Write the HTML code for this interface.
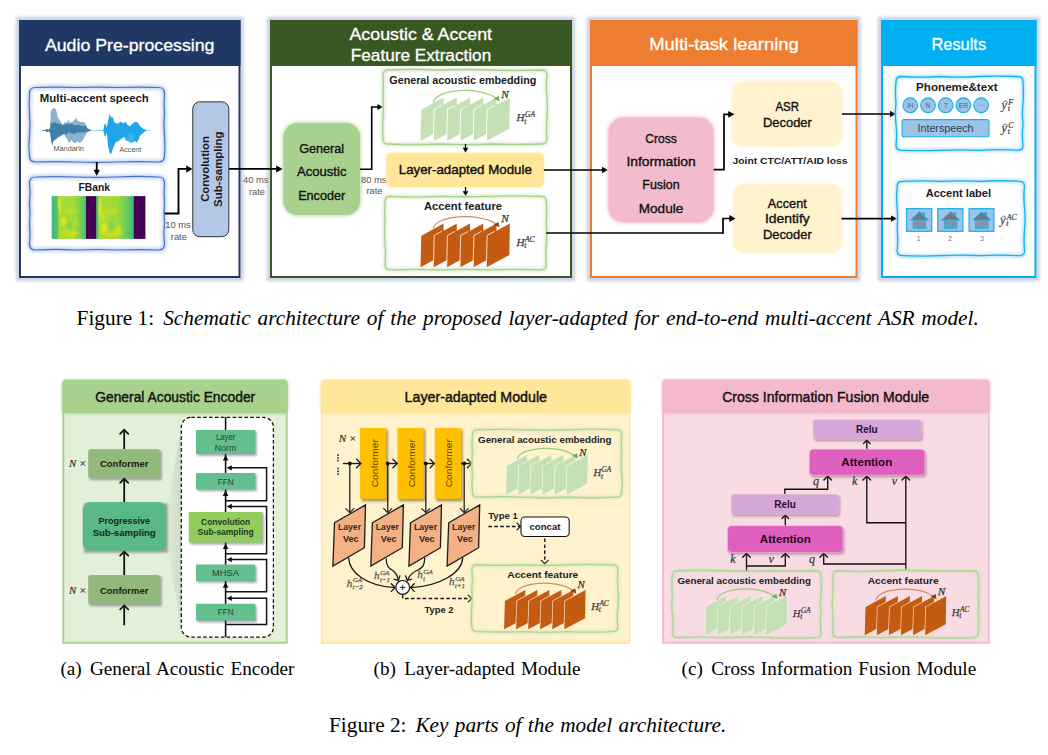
<!DOCTYPE html><html><head><meta charset="utf-8"><title>Figure</title>
<style>html,body{margin:0;padding:0;background:#fff;}body{width:1048px;height:755px;overflow:hidden;font-family:"Liberation Sans",sans-serif;}svg{display:block}</style></head><body>
<svg width="1048" height="755" viewBox="0 0 1048 755">
<defs>
<filter id="b1" x="-20%" y="-20%" width="140%" height="140%"><feGaussianBlur stdDeviation="1"/></filter>
<filter id="b2" x="-20%" y="-20%" width="140%" height="140%"><feGaussianBlur stdDeviation="1.6"/></filter>
<filter id="b3" x="-30%" y="-30%" width="160%" height="160%"><feGaussianBlur stdDeviation="3"/></filter>
<filter id="b05" x="-20%" y="-20%" width="140%" height="140%"><feGaussianBlur stdDeviation="0.5"/></filter>
<linearGradient id="spA" x1="0" x2="1" y1="0" y2="0">
<stop offset="0" stop-color="#3fb878"/><stop offset="0.17" stop-color="#52c569"/><stop offset="0.22" stop-color="#b5de2b"/><stop offset="0.28" stop-color="#a2da37"/><stop offset="0.6" stop-color="#a8db34"/><stop offset="0.82" stop-color="#7ad151"/><stop offset="1" stop-color="#4ac16d"/></linearGradient>
<linearGradient id="spB" x1="0" x2="1" y1="0" y2="0">
<stop offset="0" stop-color="#44bf70"/><stop offset="0.05" stop-color="#5ec962"/><stop offset="0.10" stop-color="#b5de2b"/><stop offset="0.16" stop-color="#a5db36"/><stop offset="0.55" stop-color="#a0da39"/><stop offset="0.78" stop-color="#6ece58"/><stop offset="1" stop-color="#3bb876"/></linearGradient>
<linearGradient id="wedge" x1="0" x2="1" y1="0" y2="0"><stop offset="0" stop-color="#9aa39a" stop-opacity="0.0"/><stop offset="1" stop-color="#b9c2b6" stop-opacity="0.42"/></linearGradient>
</defs>
<rect width="1048" height="755" fill="#fff"/>
<rect x="18.00" y="19.00" width="223.50" height="260.00" rx="0" ry="0" fill="none" stroke="#9aa6cc" stroke-width="4" opacity="0.55" filter="url(#b2)"/>
<rect x="19.00" y="20.00" width="221.50" height="258.00" rx="0" ry="0" fill="#fff" stroke="none" stroke-width="1" />
<rect x="19.00" y="20.00" width="221.50" height="46.00" rx="0" ry="0" fill="#203864" stroke="none" stroke-width="1" />
<rect x="20.00" y="21.00" width="219.50" height="256.00" rx="0" ry="0" fill="none" stroke="#203864" stroke-width="2" />
<text x="129.70" y="50.80" font-family="Liberation Sans" font-size="17" font-weight="normal" font-style="normal" text-anchor="middle" fill="#fff" textLength="169.50" lengthAdjust="spacingAndGlyphs" stroke="#fff" stroke-width="0.3">Audio Pre-processing</text>
<rect x="269.00" y="19.00" width="304.00" height="260.00" rx="0" ry="0" fill="none" stroke="#9aa6cc" stroke-width="4" opacity="0.55" filter="url(#b2)"/>
<rect x="270.00" y="20.00" width="302.00" height="258.00" rx="0" ry="0" fill="#fff" stroke="none" stroke-width="1" />
<rect x="270.00" y="20.00" width="302.00" height="46.00" rx="0" ry="0" fill="#385723" stroke="none" stroke-width="1" />
<rect x="271.00" y="21.00" width="300.00" height="256.00" rx="0" ry="0" fill="none" stroke="#385723" stroke-width="2" />
<text x="420.75" y="40.00" font-family="Liberation Sans" font-size="17" font-weight="normal" font-style="normal" text-anchor="middle" fill="#fff" textLength="142.50" lengthAdjust="spacingAndGlyphs" stroke="#fff" stroke-width="0.3">Acoustic &amp; Accent</text>
<text x="421.00" y="60.75" font-family="Liberation Sans" font-size="17" font-weight="normal" font-style="normal" text-anchor="middle" fill="#fff" textLength="140.50" lengthAdjust="spacingAndGlyphs" stroke="#fff" stroke-width="0.3">Feature Extraction</text>
<rect x="589.00" y="19.00" width="269.50" height="260.00" rx="0" ry="0" fill="none" stroke="#9aa6cc" stroke-width="4" opacity="0.55" filter="url(#b2)"/>
<rect x="590.00" y="20.00" width="267.50" height="258.00" rx="0" ry="0" fill="#fff" stroke="none" stroke-width="1" />
<rect x="590.00" y="20.00" width="267.50" height="46.00" rx="0" ry="0" fill="#ed7d31" stroke="none" stroke-width="1" />
<rect x="591.00" y="21.00" width="265.50" height="256.00" rx="0" ry="0" fill="none" stroke="#ed7d31" stroke-width="2" />
<text x="724.00" y="50.00" font-family="Liberation Sans" font-size="17" font-weight="normal" font-style="normal" text-anchor="middle" fill="#fff" textLength="149.50" lengthAdjust="spacingAndGlyphs" stroke="#fff" stroke-width="0.3">Multi-task learning</text>
<rect x="880.00" y="19.00" width="157.50" height="260.00" rx="0" ry="0" fill="none" stroke="#9aa6cc" stroke-width="4" opacity="0.55" filter="url(#b2)"/>
<rect x="881.00" y="20.00" width="155.50" height="258.00" rx="0" ry="0" fill="#fff" stroke="none" stroke-width="1" />
<rect x="881.00" y="20.00" width="155.50" height="46.00" rx="0" ry="0" fill="#00b0f0" stroke="none" stroke-width="1" />
<rect x="882.00" y="21.00" width="153.50" height="256.00" rx="0" ry="0" fill="none" stroke="#00b0f0" stroke-width="2" />
<text x="958.80" y="49.80" font-family="Liberation Sans" font-size="16.8" font-weight="normal" font-style="normal" text-anchor="middle" fill="#fff" textLength="54.70" lengthAdjust="spacingAndGlyphs" stroke="#fff" stroke-width="0.3">Results</text>
<path d="M35.50 87.50 Q56.00 86.61 76.50 87.50 Q97.00 86.56 117.50 87.50 Q138.00 86.76 158.50 87.50 Q164.50 87.50 164.50 93.50 Q163.58 103.92 164.50 114.33 Q163.25 124.75 164.50 135.17 Q165.22 145.58 164.50 156.00 Q164.50 162.00 158.50 162.00 Q138.00 161.05 117.50 162.00 Q97.00 162.75 76.50 162.00 Q56.00 161.26 35.50 162.00 Q29.50 162.00 29.50 156.00 Q28.23 145.58 29.50 135.17 Q30.55 124.75 29.50 114.33 Q28.77 103.92 29.50 93.50 Q29.50 87.50 35.50 87.50Z" fill="#fff" stroke="none"/>
<path d="M35.50 87.50 Q56.00 86.61 76.50 87.50 Q97.00 86.56 117.50 87.50 Q138.00 86.76 158.50 87.50 Q164.50 87.50 164.50 93.50 Q163.58 103.92 164.50 114.33 Q163.25 124.75 164.50 135.17 Q165.22 145.58 164.50 156.00 Q164.50 162.00 158.50 162.00 Q138.00 161.05 117.50 162.00 Q97.00 162.75 76.50 162.00 Q56.00 161.26 35.50 162.00 Q29.50 162.00 29.50 156.00 Q28.23 145.58 29.50 135.17 Q30.55 124.75 29.50 114.33 Q28.77 103.92 29.50 93.50 Q29.50 87.50 35.50 87.50Z" fill="none" stroke="#9db7e8" stroke-width="5" opacity="0.55" filter="url(#b2)"/>
<path d="M35.50 87.50 Q56.00 86.61 76.50 87.50 Q97.00 86.56 117.50 87.50 Q138.00 86.76 158.50 87.50 Q164.50 87.50 164.50 93.50 Q163.58 103.92 164.50 114.33 Q163.25 124.75 164.50 135.17 Q165.22 145.58 164.50 156.00 Q164.50 162.00 158.50 162.00 Q138.00 161.05 117.50 162.00 Q97.00 162.75 76.50 162.00 Q56.00 161.26 35.50 162.00 Q29.50 162.00 29.50 156.00 Q28.23 145.58 29.50 135.17 Q30.55 124.75 29.50 114.33 Q28.77 103.92 29.50 93.50 Q29.50 87.50 35.50 87.50Z" fill="none" stroke="#4472c4" stroke-width="1.2"/>
<text x="94.30" y="101.70" font-family="Liberation Sans" font-size="10.6" font-weight="bold" font-style="normal" text-anchor="middle" fill="#1a1a1a" textLength="109.00" lengthAdjust="spacingAndGlyphs" >Multi-accent speech</text>
<polygon points="42.26,130.31 42.87,129.49 43.48,130.82 44.09,129.80 44.70,129.51 45.31,130.07 46.07,128.87 46.83,128.97 47.59,129.19 48.35,130.07 48.96,130.04 49.57,128.38 50.18,128.36 50.79,111.31 51.40,110.53 52.01,109.72 52.62,108.57 53.23,108.25 53.83,108.45 54.44,108.26 55.05,108.33 55.66,109.14 56.27,110.70 56.88,112.63 57.49,115.88 58.10,118.01 58.71,118.70 59.32,119.31 59.92,120.44 60.53,121.58 61.14,122.34 61.75,123.07 62.36,124.40 62.97,124.40 63.58,123.73 64.19,122.88 64.80,122.21 65.41,122.55 66.01,122.24 66.62,121.97 67.23,121.90 67.84,120.94 68.45,119.83 69.06,120.69 69.67,122.27 70.28,123.09 70.89,121.62 71.50,122.13 72.10,122.27 72.71,122.10 73.32,120.46 73.93,120.42 74.54,119.83 75.15,118.54 75.76,119.11 76.37,118.31 76.98,119.68 77.59,120.26 78.19,121.05 78.80,121.84 79.41,121.04 80.02,121.84 80.63,121.66 81.24,121.87 81.85,121.90 82.46,121.74 83.07,122.44 83.68,122.67 84.29,121.97 84.89,122.84 85.50,124.07 86.11,124.71 86.72,125.78 87.33,128.36 87.94,129.01 88.55,129.22 89.16,130.11 89.77,129.58 90.38,130.31 90.98,129.58 91.59,129.93 92.20,130.31 92.20,130.67 91.59,130.18 90.98,130.45 90.38,130.37 89.77,131.41 89.16,130.95 88.55,131.74 87.94,131.74 87.33,132.62 86.72,133.14 86.11,133.92 85.50,135.67 84.89,135.99 84.29,138.03 83.68,138.19 83.07,139.93 82.46,140.37 81.85,140.97 81.24,142.27 80.63,142.37 80.02,142.88 79.41,142.60 78.80,142.68 78.19,141.12 77.59,141.76 76.98,142.30 76.37,142.45 75.76,142.52 75.15,143.06 74.54,142.98 73.93,143.34 73.32,142.28 72.71,141.54 72.10,141.21 71.50,140.10 70.89,140.54 70.13,141.66 69.36,143.59 68.60,142.22 67.84,140.54 67.23,139.60 66.62,138.26 66.01,137.34 65.41,136.89 64.80,135.32 64.19,134.26 63.58,133.84 62.97,135.08 62.36,135.41 61.75,134.97 61.14,135.67 60.53,135.77 59.92,135.78 59.32,137.02 58.71,137.19 58.10,136.89 57.49,138.15 56.88,138.19 56.27,138.71 55.66,139.11 55.05,138.97 54.44,140.81 53.83,140.48 53.23,141.15 52.31,145.41 51.70,142.55 51.09,140.54 50.18,132.62 49.57,131.42 48.96,131.94 48.35,130.92 47.59,130.71 46.83,132.01 46.07,130.81 45.31,130.92 44.70,130.30 44.09,130.76 43.48,129.96 42.87,131.01 42.26,130.67" fill="#8ab2cc" />
<polygon points="42.26,130.31 42.87,130.14 43.48,129.81 44.09,130.48 44.70,130.21 45.31,130.07 46.07,129.22 46.83,128.97 47.59,129.31 48.35,130.07 48.96,129.37 49.57,128.81 50.18,128.36 50.79,122.88 51.34,122.56 51.89,123.18 52.43,123.30 52.98,122.85 53.53,122.87 54.08,122.53 54.63,122.54 55.17,122.75 55.72,122.68 56.27,122.88 56.88,123.36 57.49,123.00 58.10,123.08 58.71,124.08 59.32,123.92 59.92,124.10 60.53,124.02 61.14,124.59 61.75,124.38 62.36,125.01 62.97,124.90 63.58,125.16 64.19,124.93 64.80,124.66 65.41,124.15 66.01,124.11 66.62,124.10 67.23,123.81 67.84,124.33 68.45,124.13 69.06,124.34 69.67,124.10 70.28,123.80 70.89,123.56 71.50,123.91 72.10,123.49 72.71,124.36 73.32,124.70 73.93,125.12 74.54,125.32 75.15,125.54 75.76,125.42 76.37,124.93 76.98,125.13 77.59,124.94 78.19,125.01 78.80,124.84 79.41,125.07 80.02,125.51 80.63,125.92 81.24,125.72 81.85,126.09 82.46,126.31 83.07,125.88 83.68,126.30 84.29,126.34 84.89,126.31 85.50,125.92 86.11,126.62 86.72,127.31 87.33,128.36 87.94,128.43 88.55,128.71 89.16,129.02 89.77,129.58 90.38,129.87 90.98,130.29 91.59,130.42 92.20,130.31 92.20,130.67 91.59,130.40 90.98,130.82 90.38,130.41 89.77,131.10 89.16,131.21 88.55,131.29 87.94,131.33 87.33,131.41 86.72,132.12 86.11,131.71 85.50,132.01 84.89,132.58 84.29,132.27 83.68,132.19 83.07,132.14 82.46,132.89 81.85,132.02 81.24,132.45 80.63,132.62 80.02,132.33 79.41,132.73 78.80,132.31 78.19,132.37 77.59,132.62 76.98,132.56 76.37,132.76 75.76,133.75 75.15,134.05 74.54,133.84 73.93,133.61 73.32,134.07 72.71,133.42 72.10,133.23 71.50,133.31 70.89,133.60 70.28,132.34 69.67,132.38 69.06,132.78 68.45,132.62 67.84,132.81 67.23,133.55 66.62,134.30 66.01,134.48 65.41,134.45 64.80,133.82 64.19,134.42 63.58,133.84 62.97,134.79 62.36,134.33 61.75,134.76 61.14,135.67 60.53,135.51 59.92,136.43 59.32,136.94 58.71,136.52 58.10,136.89 57.49,137.37 56.88,138.68 56.27,138.71 55.66,139.57 55.05,139.48 54.44,140.53 53.83,140.27 53.23,141.15 52.31,145.41 51.70,142.95 51.09,140.54 50.18,132.62 49.57,132.36 48.96,131.83 48.35,130.92 47.59,131.97 46.83,132.01 46.07,131.66 45.31,130.92 44.70,130.36 44.09,131.19 43.48,130.96 42.87,130.70 42.26,130.67" fill="#3f80a8" />
<path d="M92.00 130.50 L103.00 130.50" fill="none" stroke="#9fd4f2" stroke-width="0.7" />
<polygon points="98.00,130.38 98.66,129.70 99.32,130.73 99.99,129.88 100.65,130.25 101.31,130.56 101.97,130.31 102.64,129.98 103.30,130.19 104.29,124.56 104.95,124.08 105.62,123.56 106.61,127.87 107.27,124.63 107.93,121.25 108.76,117.98 109.59,113.96 110.25,115.09 110.91,117.27 111.74,117.19 112.57,116.94 113.40,119.26 114.23,122.24 114.82,122.21 115.42,123.13 116.01,123.04 116.61,123.38 117.21,123.56 117.81,123.58 118.42,123.45 119.03,122.49 119.63,122.39 120.24,121.91 120.85,121.58 121.62,122.14 122.39,122.94 123.17,123.23 123.94,122.73 124.71,122.39 125.48,121.91 126.26,122.87 127.03,124.48 127.80,124.89 128.46,125.40 129.13,125.88 129.79,126.22 130.45,125.88 131.11,124.82 131.77,124.47 132.44,124.23 133.10,122.90 133.76,123.15 134.42,122.02 135.09,121.80 135.75,122.03 136.41,121.91 137.07,122.00 137.74,122.89 138.40,123.33 139.06,124.56 139.72,125.53 140.38,126.42 141.05,127.32 141.71,127.54 142.37,127.49 143.03,128.65 143.70,128.99 144.36,129.19 145.02,129.05 145.68,130.36 146.34,130.19 147.01,130.83 147.67,129.87 148.33,130.87 148.99,130.16 149.66,130.31 150.32,131.00 150.98,130.38 150.98,130.58 150.32,130.07 149.66,130.26 148.99,130.65 148.33,130.13 147.67,130.32 147.01,131.20 146.34,130.65 145.68,130.98 145.02,131.18 144.36,131.63 143.70,132.44 143.03,133.17 142.37,134.14 141.71,133.58 141.05,135.13 140.38,135.15 139.72,136.15 139.06,138.64 138.40,139.79 137.74,140.85 137.07,142.13 136.41,142.44 135.75,141.43 135.09,141.46 134.42,141.11 133.76,141.91 133.10,141.63 132.44,142.77 131.77,142.03 131.11,142.64 130.45,142.27 129.79,142.53 129.13,141.77 128.46,140.98 127.80,140.79 127.14,141.20 126.48,140.45 125.81,140.17 125.15,138.69 124.49,137.48 123.83,137.14 123.17,137.36 122.50,138.57 121.84,138.12 121.18,138.95 120.52,139.79 119.85,139.60 119.19,141.08 118.53,141.16 117.87,141.11 117.21,142.25 116.54,141.53 115.88,142.62 115.22,143.10 114.45,145.25 113.67,146.85 112.90,149.06 112.07,150.90 111.25,154.03 110.42,153.45 109.59,153.03 108.76,149.13 107.93,145.09 106.94,133.17 106.28,134.35 105.62,136.81 104.62,135.81 103.96,133.63 103.30,130.85 102.64,130.58 101.97,130.40 101.31,130.56 100.65,130.77 99.99,130.63 99.32,130.25 98.66,131.11 98.00,130.65" fill="#1fa6ea" />
<ellipse cx="130.5" cy="137.5" rx="3.2" ry="4.2" fill="#6cc4f3" opacity="0.45" filter="url(#b1)"/>
<text x="68.70" y="151.40" font-family="Liberation Sans" font-size="6.4" font-weight="normal" font-style="normal" text-anchor="middle" fill="#555" textLength="30.50" lengthAdjust="spacingAndGlyphs" >Mandarin</text>
<text x="130.40" y="151.80" font-family="Liberation Sans" font-size="6.4" font-weight="normal" font-style="normal" text-anchor="middle" fill="#555" textLength="21.80" lengthAdjust="spacingAndGlyphs" >Accent</text>
<path d="M96.75 162.00 L96.75 171.00" fill="none" stroke="#000" stroke-width="1.8" />
<polygon points="96.75,176.20 93.65,169.80 99.85,169.80" fill="#000"/>
<path d="M35.50 177.00 Q56.00 176.20 76.50 177.00 Q97.00 177.81 117.50 177.00 Q138.00 175.92 158.50 177.00 Q164.50 177.00 164.50 183.00 Q163.63 193.17 164.50 203.33 Q163.64 213.50 164.50 223.67 Q163.20 233.83 164.50 244.00 Q164.50 250.00 158.50 250.00 Q138.00 249.29 117.50 250.00 Q97.00 248.99 76.50 250.00 Q56.00 248.74 35.50 250.00 Q29.50 250.00 29.50 244.00 Q30.59 233.83 29.50 223.67 Q30.59 213.50 29.50 203.33 Q30.78 193.17 29.50 183.00 Q29.50 177.00 35.50 177.00Z" fill="#fff" stroke="none"/>
<path d="M35.50 177.00 Q56.00 176.20 76.50 177.00 Q97.00 177.81 117.50 177.00 Q138.00 175.92 158.50 177.00 Q164.50 177.00 164.50 183.00 Q163.63 193.17 164.50 203.33 Q163.64 213.50 164.50 223.67 Q163.20 233.83 164.50 244.00 Q164.50 250.00 158.50 250.00 Q138.00 249.29 117.50 250.00 Q97.00 248.99 76.50 250.00 Q56.00 248.74 35.50 250.00 Q29.50 250.00 29.50 244.00 Q30.59 233.83 29.50 223.67 Q30.59 213.50 29.50 203.33 Q30.78 193.17 29.50 183.00 Q29.50 177.00 35.50 177.00Z" fill="none" stroke="#9db7e8" stroke-width="5" opacity="0.55" filter="url(#b2)"/>
<path d="M35.50 177.00 Q56.00 176.20 76.50 177.00 Q97.00 177.81 117.50 177.00 Q138.00 175.92 158.50 177.00 Q164.50 177.00 164.50 183.00 Q163.63 193.17 164.50 203.33 Q163.64 213.50 164.50 223.67 Q163.20 233.83 164.50 244.00 Q164.50 250.00 158.50 250.00 Q138.00 249.29 117.50 250.00 Q97.00 248.99 76.50 250.00 Q56.00 248.74 35.50 250.00 Q29.50 250.00 29.50 244.00 Q30.59 233.83 29.50 223.67 Q30.59 213.50 29.50 203.33 Q30.78 193.17 29.50 183.00 Q29.50 177.00 35.50 177.00Z" fill="none" stroke="#4472c4" stroke-width="1.2"/>
<text x="94.30" y="190.70" font-family="Liberation Sans" font-size="10.5" font-weight="bold" font-style="normal" text-anchor="middle" fill="#1a1a1a" textLength="31.70" lengthAdjust="spacingAndGlyphs" >FBank</text>
<g filter="url(#b05)">
<rect x="51.70" y="196.10" width="34.50" height="42.80" rx="0" ry="0" fill="url(#spA)" stroke="none" stroke-width="1" />
<rect x="96.00" y="196.10" width="37.90" height="42.80" rx="0" ry="0" fill="url(#spB)" stroke="none" stroke-width="1" />
</g>
<g filter="url(#b1)" opacity="0.8">
<ellipse cx="63.6" cy="221.5" rx="2.6" ry="4.5" fill="#f4e61e"/>
<ellipse cx="71" cy="211" rx="7" ry="2.2" fill="#c0df25"/>
<ellipse cx="70" cy="233" rx="8" ry="3.5" fill="#d2e21b"/>
<ellipse cx="59.6" cy="205" rx="1.1" ry="8" fill="#fde725"/>
<ellipse cx="69.6" cy="226" rx="2.6" ry="5" fill="#7fd34e"/>
<ellipse cx="76" cy="222" rx="2.5" ry="6" fill="#b5de2b"/>
<ellipse cx="104" cy="228" rx="2.8" ry="5" fill="#f4e61e"/>
<ellipse cx="110" cy="211" rx="8" ry="2.4" fill="#c0df25"/>
<ellipse cx="112" cy="234" rx="10" ry="3" fill="#cfe11c"/>
<ellipse cx="99.9" cy="207.5" rx="1.2" ry="9" fill="#fde725"/>
<ellipse cx="111.3" cy="225.5" rx="2.8" ry="5.5" fill="#7fd34e"/>
<ellipse cx="119" cy="230" rx="3" ry="4" fill="#dde318"/>
<ellipse cx="103" cy="217" rx="3" ry="3" fill="#d8e219"/>
</g>
<rect x="86.00" y="196.10" width="10.20" height="42.80" rx="0" ry="0" fill="#440154" stroke="none" stroke-width="1" />
<rect x="133.70" y="196.10" width="11.70" height="42.80" rx="0" ry="0" fill="#440154" stroke="none" stroke-width="1" />
<path d="M52.00 238.80 L52.00 240.00" fill="none" stroke="#bbb" stroke-width="0.4" />
<path d="M64.00 238.80 L64.00 240.00" fill="none" stroke="#bbb" stroke-width="0.4" />
<path d="M76.00 238.80 L76.00 240.00" fill="none" stroke="#bbb" stroke-width="0.4" />
<path d="M88.00 238.80 L88.00 240.00" fill="none" stroke="#bbb" stroke-width="0.4" />
<path d="M100.00 238.80 L100.00 240.00" fill="none" stroke="#bbb" stroke-width="0.4" />
<path d="M112.00 238.80 L112.00 240.00" fill="none" stroke="#bbb" stroke-width="0.4" />
<path d="M124.00 238.80 L124.00 240.00" fill="none" stroke="#bbb" stroke-width="0.4" />
<path d="M136.00 238.80 L136.00 240.00" fill="none" stroke="#bbb" stroke-width="0.4" />
<path d="M50.80 198.00 L52.00 198.00" fill="none" stroke="#bbb" stroke-width="0.4" />
<path d="M50.80 203.50 L52.00 203.50" fill="none" stroke="#bbb" stroke-width="0.4" />
<path d="M50.80 209.00 L52.00 209.00" fill="none" stroke="#bbb" stroke-width="0.4" />
<path d="M50.80 214.50 L52.00 214.50" fill="none" stroke="#bbb" stroke-width="0.4" />
<path d="M50.80 220.00 L52.00 220.00" fill="none" stroke="#bbb" stroke-width="0.4" />
<path d="M50.80 225.50 L52.00 225.50" fill="none" stroke="#bbb" stroke-width="0.4" />
<path d="M50.80 231.00 L52.00 231.00" fill="none" stroke="#bbb" stroke-width="0.4" />
<path d="M50.80 236.50 L52.00 236.50" fill="none" stroke="#bbb" stroke-width="0.4" />
<path d="M164.50 213.50 L178.50 213.50 L178.50 168.90 L187.00 168.90" fill="none" stroke="#000" stroke-width="1.9" />
<polygon points="192.60,168.90 186.20,165.40 186.20,172.40" fill="#000"/>
<text x="178.00" y="228.40" font-family="Liberation Sans" font-size="9.4" font-weight="normal" font-style="normal" text-anchor="middle" fill="#555" >10 ms</text>
<text x="178.80" y="240.30" font-family="Liberation Sans" font-size="9.3" font-weight="normal" font-style="normal" text-anchor="middle" fill="#555" >rate</text>
<rect x="192.80" y="101.80" width="36.00" height="134.90" rx="7" ry="7" fill="#b4c7e7" stroke="#333" stroke-width="1" />
<text transform="translate(209.2,169) rotate(-90)" font-family="Liberation Sans" font-size="11.3" font-weight="bold" text-anchor="middle" fill="#1a1a1a" textLength="65.7" lengthAdjust="spacingAndGlyphs">Convolution</text>
<text transform="translate(222.2,169.2) rotate(-90)" font-family="Liberation Sans" font-size="11.3" font-weight="bold" text-anchor="middle" fill="#1a1a1a" textLength="75.4" lengthAdjust="spacingAndGlyphs">Sub-sampling</text>
<path d="M229.00 168.90 L277.00 168.90" fill="none" stroke="#000" stroke-width="1.9" />
<polygon points="282.80,168.90 276.20,165.40 276.20,172.40" fill="#000"/>
<text x="255.70" y="182.90" font-family="Liberation Sans" font-size="9.4" font-weight="normal" font-style="normal" text-anchor="middle" fill="#555" >40 ms</text>
<text x="257.00" y="194.60" font-family="Liberation Sans" font-size="9.3" font-weight="normal" font-style="normal" text-anchor="middle" fill="#555" >rate</text>
<rect x="282.00" y="121.50" width="79.50" height="95.00" rx="16" ry="16" fill="#a9d18e" stroke="none" stroke-width="1" opacity="0.6" filter="url(#b2)"/>
<rect x="283.50" y="123.00" width="76.50" height="92.00" rx="14" ry="14" fill="#a9d18e" stroke="none" stroke-width="1" />
<text x="321.70" y="153.00" font-family="Liberation Sans" font-size="12.6" font-weight="normal" font-style="normal" text-anchor="middle" fill="#111" textLength="45.00" lengthAdjust="spacingAndGlyphs" stroke="#111" stroke-width="0.35">General</text>
<text x="321.70" y="176.30" font-family="Liberation Sans" font-size="12.6" font-weight="normal" font-style="normal" text-anchor="middle" fill="#111" textLength="49.50" lengthAdjust="spacingAndGlyphs" stroke="#111" stroke-width="0.35">Acoustic</text>
<text x="321.70" y="199.50" font-family="Liberation Sans" font-size="12.6" font-weight="normal" font-style="normal" text-anchor="middle" fill="#111" textLength="47.00" lengthAdjust="spacingAndGlyphs" stroke="#111" stroke-width="0.35">Encoder</text>
<path d="M360.00 169.30 L371.70 169.30 L371.70 107.00 L378.00 107.00" fill="none" stroke="#000" stroke-width="1.6" />
<polygon points="383.00,107.00 377.50,104.00 377.50,110.00" fill="#000"/>
<text x="373.80" y="182.50" font-family="Liberation Sans" font-size="9.4" font-weight="normal" font-style="normal" text-anchor="middle" fill="#555" >80 ms</text>
<text x="374.50" y="194.00" font-family="Liberation Sans" font-size="9.3" font-weight="normal" font-style="normal" text-anchor="middle" fill="#555" >rate</text>
<path d="M388.00 70.00 Q413.67 68.89 439.33 70.00 Q465.00 69.09 490.67 70.00 Q516.33 70.94 542.00 70.00 Q547.00 70.00 547.00 75.00 Q545.71 85.67 547.00 96.33 Q547.71 107.00 547.00 117.67 Q546.04 128.33 547.00 139.00 Q547.00 144.00 542.00 144.00 Q516.33 144.75 490.67 144.00 Q465.00 145.22 439.33 144.00 Q413.67 145.06 388.00 144.00 Q383.00 144.00 383.00 139.00 Q382.27 128.33 383.00 117.67 Q383.79 107.00 383.00 96.33 Q383.70 85.67 383.00 75.00 Q383.00 70.00 388.00 70.00Z" fill="#fff" stroke="none"/>
<path d="M388.00 70.00 Q413.67 68.89 439.33 70.00 Q465.00 69.09 490.67 70.00 Q516.33 70.94 542.00 70.00 Q547.00 70.00 547.00 75.00 Q545.71 85.67 547.00 96.33 Q547.71 107.00 547.00 117.67 Q546.04 128.33 547.00 139.00 Q547.00 144.00 542.00 144.00 Q516.33 144.75 490.67 144.00 Q465.00 145.22 439.33 144.00 Q413.67 145.06 388.00 144.00 Q383.00 144.00 383.00 139.00 Q382.27 128.33 383.00 117.67 Q383.79 107.00 383.00 96.33 Q383.70 85.67 383.00 75.00 Q383.00 70.00 388.00 70.00Z" fill="none" stroke="#c5e0b4" stroke-width="4" opacity="0.6" filter="url(#b2)"/>
<path d="M388.00 70.00 Q413.67 68.89 439.33 70.00 Q465.00 69.09 490.67 70.00 Q516.33 70.94 542.00 70.00 Q547.00 70.00 547.00 75.00 Q545.71 85.67 547.00 96.33 Q547.71 107.00 547.00 117.67 Q546.04 128.33 547.00 139.00 Q547.00 144.00 542.00 144.00 Q516.33 144.75 490.67 144.00 Q465.00 145.22 439.33 144.00 Q413.67 145.06 388.00 144.00 Q383.00 144.00 383.00 139.00 Q382.27 128.33 383.00 117.67 Q383.79 107.00 383.00 96.33 Q383.70 85.67 383.00 75.00 Q383.00 70.00 388.00 70.00Z" fill="none" stroke="#a9d18e" stroke-width="1.35"/>
<text x="462.80" y="84.40" font-family="Liberation Sans" font-size="10.8" font-weight="bold" font-style="normal" text-anchor="middle" fill="#1a1a1a" textLength="147.00" lengthAdjust="spacingAndGlyphs" >General acoustic embedding</text>
<polygon points="421.30,109.70 443.60,97.60 443.20,128.80 420.50,140.90" fill="#c5e0b4"/>
<polygon points="434.54,109.70 456.84,97.60 456.44,128.80 433.74,140.90" fill="#c5e0b4"/>
<path d="M433.39 141.20 L434.19 109.40 L441.82 105.45" fill="none" stroke="#fff" stroke-width="0.9" stroke-linejoin="miter"/>
<polygon points="447.78,109.70 470.08,97.60 469.68,128.80 446.98,140.90" fill="#c5e0b4"/>
<path d="M446.63 141.20 L447.43 109.40 L455.06 105.45" fill="none" stroke="#fff" stroke-width="0.9" stroke-linejoin="miter"/>
<polygon points="461.02,109.70 483.32,97.60 482.92,128.80 460.22,140.90" fill="#c5e0b4"/>
<path d="M459.87 141.20 L460.67 109.40 L468.30 105.45" fill="none" stroke="#fff" stroke-width="0.9" stroke-linejoin="miter"/>
<polygon points="474.26,109.70 496.56,97.60 496.16,128.80 473.46,140.90" fill="#c5e0b4"/>
<path d="M473.11 141.20 L473.91 109.40 L481.54 105.45" fill="none" stroke="#fff" stroke-width="0.9" stroke-linejoin="miter"/>
<polygon points="487.50,109.70 509.80,97.60 509.40,128.80 486.70,140.90" fill="#c5e0b4"/>
<path d="M486.35 141.20 L487.15 109.40 L494.78 105.45" fill="none" stroke="#fff" stroke-width="0.9" stroke-linejoin="miter"/>
<path d="M433.30 102.70 C435.30 88.90 479.70 85.90 496.50 98.30" fill="none" stroke="#9dcc7f" stroke-width="1.25"/>
<polygon points="499.70,101.30 493.90,98.70 498.70,96.00" fill="#6ab04c"/>
<text x="505.00" y="97.60" font-family="Liberation Serif" font-size="11.2" font-weight="normal" font-style="italic" text-anchor="middle" fill="#333" stroke="#333" stroke-width="0.25">N</text>
<text x="516.50" y="121.00" font-family="Liberation Serif" font-style="italic" font-size="11.2" fill="#3a3a3a" stroke="#3a3a3a" stroke-width="0.25">H</text>
<text x="524.90" y="116.97" font-family="Liberation Serif" font-style="italic" font-size="7.62" fill="#3a3a3a" stroke="#3a3a3a" stroke-width="0.2">GA</text>
<text x="524.34" y="123.69" font-family="Liberation Serif" font-style="italic" font-size="7.62" fill="#3a3a3a" stroke="#3a3a3a" stroke-width="0.2">t</text>
<path d="M465.50 144.00 L465.50 148.00" fill="none" stroke="#000" stroke-width="1.3" />
<polygon points="465.50,152.80 462.70,147.80 468.30,147.80" fill="#000"/>
<rect x="385.50" y="152.30" width="159.00" height="35.40" rx="6" ry="6" fill="#ffe699" stroke="none" stroke-width="1" opacity="0.6" filter="url(#b1)"/>
<rect x="386.30" y="153.00" width="157.50" height="34.00" rx="5" ry="5" fill="#ffe699" stroke="none" stroke-width="1" />
<text x="465.30" y="174.30" font-family="Liberation Sans" font-size="12.6" font-weight="normal" font-style="normal" text-anchor="middle" fill="#111" textLength="133.00" lengthAdjust="spacingAndGlyphs" stroke="#111" stroke-width="0.4">Layer-adapted Module</text>
<path d="M465.50 187.00 L465.50 191.50" fill="none" stroke="#000" stroke-width="1.3" />
<polygon points="465.50,196.30 462.70,191.30 468.30,191.30" fill="#000"/>
<path d="M390.00 196.30 Q415.22 197.58 440.43 196.30 Q465.65 197.15 490.87 196.30 Q516.08 195.47 541.30 196.30 Q546.30 196.30 546.30 201.30 Q547.00 211.88 546.30 222.47 Q547.05 233.05 546.30 243.63 Q545.30 254.22 546.30 264.80 Q546.30 269.80 541.30 269.80 Q516.08 268.95 490.87 269.80 Q465.65 269.05 440.43 269.80 Q415.22 269.01 390.00 269.80 Q385.00 269.80 385.00 264.80 Q385.94 254.22 385.00 243.63 Q384.12 233.05 385.00 222.47 Q384.25 211.88 385.00 201.30 Q385.00 196.30 390.00 196.30Z" fill="#fff" stroke="none"/>
<path d="M390.00 196.30 Q415.22 197.58 440.43 196.30 Q465.65 197.15 490.87 196.30 Q516.08 195.47 541.30 196.30 Q546.30 196.30 546.30 201.30 Q547.00 211.88 546.30 222.47 Q547.05 233.05 546.30 243.63 Q545.30 254.22 546.30 264.80 Q546.30 269.80 541.30 269.80 Q516.08 268.95 490.87 269.80 Q465.65 269.05 440.43 269.80 Q415.22 269.01 390.00 269.80 Q385.00 269.80 385.00 264.80 Q385.94 254.22 385.00 243.63 Q384.12 233.05 385.00 222.47 Q384.25 211.88 385.00 201.30 Q385.00 196.30 390.00 196.30Z" fill="none" stroke="#c5e0b4" stroke-width="4" opacity="0.6" filter="url(#b2)"/>
<path d="M390.00 196.30 Q415.22 197.58 440.43 196.30 Q465.65 197.15 490.87 196.30 Q516.08 195.47 541.30 196.30 Q546.30 196.30 546.30 201.30 Q547.00 211.88 546.30 222.47 Q547.05 233.05 546.30 243.63 Q545.30 254.22 546.30 264.80 Q546.30 269.80 541.30 269.80 Q516.08 268.95 490.87 269.80 Q465.65 269.05 440.43 269.80 Q415.22 269.01 390.00 269.80 Q385.00 269.80 385.00 264.80 Q385.94 254.22 385.00 243.63 Q384.12 233.05 385.00 222.47 Q384.25 211.88 385.00 201.30 Q385.00 196.30 390.00 196.30Z" fill="none" stroke="#a9d18e" stroke-width="1.35"/>
<text x="463.00" y="210.00" font-family="Liberation Sans" font-size="10.6" font-weight="bold" font-style="normal" text-anchor="middle" fill="#1a1a1a" textLength="78.00" lengthAdjust="spacingAndGlyphs" >Accent feature</text>
<polygon points="421.30,235.70 443.60,223.50 443.20,255.00 420.50,267.20" fill="#c55a11"/>
<polygon points="434.54,235.70 456.84,223.50 456.44,255.00 433.74,267.20" fill="#c55a11"/>
<path d="M433.39 267.50 L434.19 235.40 L441.82 231.42" fill="none" stroke="#fbeadd" stroke-width="0.9" stroke-linejoin="miter"/>
<polygon points="447.78,235.70 470.08,223.50 469.68,255.00 446.98,267.20" fill="#c55a11"/>
<path d="M446.63 267.50 L447.43 235.40 L455.06 231.42" fill="none" stroke="#fbeadd" stroke-width="0.9" stroke-linejoin="miter"/>
<polygon points="461.02,235.70 483.32,223.50 482.92,255.00 460.22,267.20" fill="#c55a11"/>
<path d="M459.87 267.50 L460.67 235.40 L468.30 231.42" fill="none" stroke="#fbeadd" stroke-width="0.9" stroke-linejoin="miter"/>
<polygon points="474.26,235.70 496.56,223.50 496.16,255.00 473.46,267.20" fill="#c55a11"/>
<path d="M473.11 267.50 L473.91 235.40 L481.54 231.42" fill="none" stroke="#fbeadd" stroke-width="0.9" stroke-linejoin="miter"/>
<polygon points="487.50,235.70 509.80,223.50 509.40,255.00 486.70,267.20" fill="#c55a11"/>
<path d="M486.35 267.50 L487.15 235.40 L494.78 231.42" fill="none" stroke="#fbeadd" stroke-width="0.9" stroke-linejoin="miter"/>
<path d="M433.30 228.40 C435.30 215.20 479.50 212.20 496.30 224.30" fill="none" stroke="#c9906c" stroke-width="1.25"/>
<polygon points="499.50,227.30 493.70,224.70 498.50,222.00" fill="#8a3f0e"/>
<text x="504.90" y="221.60" font-family="Liberation Serif" font-size="11.2" font-weight="normal" font-style="italic" text-anchor="middle" fill="#333" stroke="#333" stroke-width="0.25">N</text>
<text x="516.50" y="245.80" font-family="Liberation Serif" font-style="italic" font-size="11.2" fill="#3a3a3a" stroke="#3a3a3a" stroke-width="0.25">H</text>
<text x="524.90" y="241.77" font-family="Liberation Serif" font-style="italic" font-size="7.62" fill="#3a3a3a" stroke="#3a3a3a" stroke-width="0.2">AC</text>
<text x="524.34" y="248.49" font-family="Liberation Serif" font-style="italic" font-size="7.62" fill="#3a3a3a" stroke="#3a3a3a" stroke-width="0.2">t</text>
<path d="M543.80 170.00 L602.00 170.00" fill="none" stroke="#000" stroke-width="1.6" />
<polygon points="608.00,170.00 602.00,166.80 602.00,173.20" fill="#000"/>
<path d="M546.30 233.00 L723.00 233.00" fill="none" stroke="#000" stroke-width="1.6" />
<rect x="607.00" y="116.00" width="108.00" height="108.00" rx="16" ry="16" fill="#f4b9cd" stroke="none" stroke-width="1" opacity="0.6" filter="url(#b2)"/>
<rect x="608.50" y="117.50" width="105.20" height="105.00" rx="15" ry="15" fill="#f2bccd" stroke="none" stroke-width="1" />
<text x="661.00" y="142.50" font-family="Liberation Sans" font-size="12.6" font-weight="normal" font-style="normal" text-anchor="middle" fill="#111" textLength="31.30" lengthAdjust="spacingAndGlyphs" stroke="#111" stroke-width="0.35">Cross</text>
<text x="661.00" y="165.80" font-family="Liberation Sans" font-size="12.6" font-weight="normal" font-style="normal" text-anchor="middle" fill="#111" textLength="69.20" lengthAdjust="spacingAndGlyphs" stroke="#111" stroke-width="0.35">Information</text>
<text x="661.00" y="189.20" font-family="Liberation Sans" font-size="12.6" font-weight="normal" font-style="normal" text-anchor="middle" fill="#111" textLength="37.30" lengthAdjust="spacingAndGlyphs" stroke="#111" stroke-width="0.35">Fusion</text>
<text x="661.00" y="212.50" font-family="Liberation Sans" font-size="12.6" font-weight="normal" font-style="normal" text-anchor="middle" fill="#111" textLength="44.50" lengthAdjust="spacingAndGlyphs" stroke="#111" stroke-width="0.35">Module</text>
<rect x="731.00" y="81.00" width="112.00" height="66.00" rx="12" ry="12" fill="#fff2cc" stroke="none" stroke-width="1" opacity="0.7" filter="url(#b2)"/>
<rect x="732.00" y="82.00" width="110.00" height="64.00" rx="11" ry="11" fill="#fff2cc" stroke="none" stroke-width="1" />
<text x="787.20" y="111.30" font-family="Liberation Sans" font-size="12.4" font-weight="normal" font-style="normal" text-anchor="middle" fill="#111" textLength="23.50" lengthAdjust="spacingAndGlyphs" stroke="#111" stroke-width="0.35">ASR</text>
<text x="787.40" y="127.00" font-family="Liberation Sans" font-size="12.6" font-weight="normal" font-style="normal" text-anchor="middle" fill="#111" textLength="48.80" lengthAdjust="spacingAndGlyphs" stroke="#111" stroke-width="0.35">Decoder</text>
<text x="790.00" y="164.00" font-family="Liberation Sans" font-size="9.6" font-weight="bold" font-style="normal" text-anchor="middle" fill="#222" textLength="115.00" lengthAdjust="spacingAndGlyphs" >Joint CTC/ATT/AID loss</text>
<rect x="732.50" y="183.50" width="110.00" height="70.00" rx="12" ry="12" fill="#fff2cc" stroke="none" stroke-width="1" opacity="0.7" filter="url(#b2)"/>
<rect x="733.50" y="184.30" width="108.00" height="68.30" rx="11" ry="11" fill="#fff2cc" stroke="none" stroke-width="1" />
<text x="787.30" y="207.80" font-family="Liberation Sans" font-size="12.6" font-weight="normal" font-style="normal" text-anchor="middle" fill="#111" textLength="39.00" lengthAdjust="spacingAndGlyphs" stroke="#111" stroke-width="0.35">Accent</text>
<text x="787.30" y="223.20" font-family="Liberation Sans" font-size="12.6" font-weight="normal" font-style="normal" text-anchor="middle" fill="#111" textLength="44.80" lengthAdjust="spacingAndGlyphs" stroke="#111" stroke-width="0.35">Identify</text>
<text x="787.30" y="238.90" font-family="Liberation Sans" font-size="12.6" font-weight="normal" font-style="normal" text-anchor="middle" fill="#111" textLength="48.80" lengthAdjust="spacingAndGlyphs" stroke="#111" stroke-width="0.35">Decoder</text>
<path d="M713.70 169.70 L724.00 169.70 L724.00 114.30 L729.00 114.30" fill="none" stroke="#000" stroke-width="1.7" />
<polygon points="734.40,114.30 728.20,110.90 728.20,117.70" fill="#000"/>
<path d="M722.00 233.00 L723.00 233.00 L723.00 218.50 L730.00 218.50" fill="none" stroke="#000" stroke-width="1.7" />
<polygon points="735.60,218.50 729.40,215.10 729.40,221.90" fill="#000"/>
<path d="M842.00 114.00 L890.00 114.00" fill="none" stroke="#000" stroke-width="1.6" />
<polygon points="896.00,114.00 890.00,110.80 890.00,117.20" fill="#000"/>
<path d="M841.50 218.60 L891.00 218.60" fill="none" stroke="#000" stroke-width="1.6" />
<polygon points="897.00,218.60 891.00,215.40 891.00,221.80" fill="#000"/>
<path d="M901.00 76.50 Q920.50 77.59 940.00 76.50 Q959.50 77.66 979.00 76.50 Q998.50 75.71 1018.00 76.50 Q1023.00 76.50 1023.00 81.50 Q1023.73 92.13 1023.00 102.77 Q1021.86 113.40 1023.00 124.03 Q1021.75 134.67 1023.00 145.30 Q1023.00 150.30 1018.00 150.30 Q998.50 149.10 979.00 150.30 Q959.50 149.55 940.00 150.30 Q920.50 151.08 901.00 150.30 Q896.00 150.30 896.00 145.30 Q897.28 134.67 896.00 124.03 Q894.80 113.40 896.00 102.77 Q894.92 92.13 896.00 81.50 Q896.00 76.50 901.00 76.50Z" fill="#fff" stroke="none"/>
<path d="M901.00 76.50 Q920.50 77.59 940.00 76.50 Q959.50 77.66 979.00 76.50 Q998.50 75.71 1018.00 76.50 Q1023.00 76.50 1023.00 81.50 Q1023.73 92.13 1023.00 102.77 Q1021.86 113.40 1023.00 124.03 Q1021.75 134.67 1023.00 145.30 Q1023.00 150.30 1018.00 150.30 Q998.50 149.10 979.00 150.30 Q959.50 149.55 940.00 150.30 Q920.50 151.08 901.00 150.30 Q896.00 150.30 896.00 145.30 Q897.28 134.67 896.00 124.03 Q894.80 113.40 896.00 102.77 Q894.92 92.13 896.00 81.50 Q896.00 76.50 901.00 76.50Z" fill="none" stroke="#8ccff0" stroke-width="4" opacity="0.6" filter="url(#b2)"/>
<path d="M901.00 76.50 Q920.50 77.59 940.00 76.50 Q959.50 77.66 979.00 76.50 Q998.50 75.71 1018.00 76.50 Q1023.00 76.50 1023.00 81.50 Q1023.73 92.13 1023.00 102.77 Q1021.86 113.40 1023.00 124.03 Q1021.75 134.67 1023.00 145.30 Q1023.00 150.30 1018.00 150.30 Q998.50 149.10 979.00 150.30 Q959.50 149.55 940.00 150.30 Q920.50 151.08 901.00 150.30 Q896.00 150.30 896.00 145.30 Q897.28 134.67 896.00 124.03 Q894.80 113.40 896.00 102.77 Q894.92 92.13 896.00 81.50 Q896.00 76.50 901.00 76.50Z" fill="none" stroke="#12b4f0" stroke-width="1.3"/>
<text x="956.80" y="91.40" font-family="Liberation Sans" font-size="10.8" font-weight="bold" font-style="normal" text-anchor="middle" fill="#1a1a1a" textLength="81.50" lengthAdjust="spacingAndGlyphs" >Phoneme&amp;text</text>
<circle cx="910.3" cy="105.3" r="7.3" fill="#9dc3e6" stroke="#22b0ee" stroke-width="1.3"/>
<text x="910.30" y="107.80" font-family="Liberation Sans" font-size="6.7" font-weight="normal" font-style="normal" text-anchor="middle" fill="#456585" >IH</text>
<circle cx="928" cy="105.3" r="7.3" fill="#9dc3e6" stroke="#22b0ee" stroke-width="1.3"/>
<text x="928.00" y="107.80" font-family="Liberation Sans" font-size="6.7" font-weight="normal" font-style="normal" text-anchor="middle" fill="#456585" >N</text>
<circle cx="945.7" cy="105.3" r="7.3" fill="#9dc3e6" stroke="#22b0ee" stroke-width="1.3"/>
<text x="945.70" y="107.80" font-family="Liberation Sans" font-size="6.7" font-weight="normal" font-style="normal" text-anchor="middle" fill="#456585" >T</text>
<circle cx="963.4" cy="105.3" r="7.3" fill="#9dc3e6" stroke="#22b0ee" stroke-width="1.3"/>
<text x="963.40" y="107.80" font-family="Liberation Sans" font-size="6.7" font-weight="normal" font-style="normal" text-anchor="middle" fill="#456585" >ER</text>
<circle cx="981.2" cy="105.3" r="7.3" fill="#9dc3e6" stroke="#22b0ee" stroke-width="1.3"/>
<text x="981.20" y="107.80" font-family="Liberation Sans" font-size="6.7" font-weight="normal" font-style="normal" text-anchor="middle" fill="#456585" >···</text>
<rect x="902.00" y="119.60" width="87.00" height="17.10" rx="2" ry="2" fill="#9dc3e6" stroke="#12b4f0" stroke-width="1.1" />
<text x="945.50" y="132.00" font-family="Liberation Sans" font-size="10.4" font-weight="normal" font-style="normal" text-anchor="middle" fill="#2a3f55" textLength="56.00" lengthAdjust="spacingAndGlyphs" >Interspeech</text>
<text x="1001.50" y="108.70" font-family="Liberation Serif" font-style="italic" font-size="12" fill="#3a3a3a" stroke="#3a3a3a" stroke-width="0.2">y</text>
<text x="1008.22" y="104.98" font-family="Liberation Serif" font-style="italic" font-size="7.92" fill="#3a3a3a" stroke="#3a3a3a" stroke-width="0.2">F</text>
<text x="1007.74" y="111.34" font-family="Liberation Serif" font-style="italic" font-size="7.92" fill="#3a3a3a" stroke="#3a3a3a" stroke-width="0.2">t</text>
<path d="M1002.90 102.70 L1005.10 100.78 L1007.74 102.70" fill="none" stroke="#3a3a3a" stroke-width="0.8" />
<text x="1001.50" y="131.80" font-family="Liberation Serif" font-style="italic" font-size="12" fill="#3a3a3a" stroke="#3a3a3a" stroke-width="0.2">y</text>
<text x="1008.22" y="128.08" font-family="Liberation Serif" font-style="italic" font-size="7.92" fill="#3a3a3a" stroke="#3a3a3a" stroke-width="0.2">C</text>
<text x="1007.74" y="134.44" font-family="Liberation Serif" font-style="italic" font-size="7.92" fill="#3a3a3a" stroke="#3a3a3a" stroke-width="0.2">t</text>
<path d="M1002.90 125.80 L1005.10 123.88 L1007.74 125.80" fill="none" stroke="#3a3a3a" stroke-width="0.8" />
<path d="M902.20 181.30 Q921.75 180.31 941.30 181.30 Q960.85 180.33 980.40 181.30 Q999.95 180.15 1019.50 181.30 Q1024.50 181.30 1024.50 186.30 Q1023.40 197.03 1024.50 207.77 Q1025.65 218.50 1024.50 229.23 Q1023.65 239.97 1024.50 250.70 Q1024.50 255.70 1019.50 255.70 Q999.95 254.49 980.40 255.70 Q960.85 254.56 941.30 255.70 Q921.75 256.54 902.20 255.70 Q897.20 255.70 897.20 250.70 Q898.20 239.97 897.20 229.23 Q897.95 218.50 897.20 207.77 Q896.04 197.03 897.20 186.30 Q897.20 181.30 902.20 181.30Z" fill="#fff" stroke="none"/>
<path d="M902.20 181.30 Q921.75 180.31 941.30 181.30 Q960.85 180.33 980.40 181.30 Q999.95 180.15 1019.50 181.30 Q1024.50 181.30 1024.50 186.30 Q1023.40 197.03 1024.50 207.77 Q1025.65 218.50 1024.50 229.23 Q1023.65 239.97 1024.50 250.70 Q1024.50 255.70 1019.50 255.70 Q999.95 254.49 980.40 255.70 Q960.85 254.56 941.30 255.70 Q921.75 256.54 902.20 255.70 Q897.20 255.70 897.20 250.70 Q898.20 239.97 897.20 229.23 Q897.95 218.50 897.20 207.77 Q896.04 197.03 897.20 186.30 Q897.20 181.30 902.20 181.30Z" fill="none" stroke="#8ccff0" stroke-width="4" opacity="0.6" filter="url(#b2)"/>
<path d="M902.20 181.30 Q921.75 180.31 941.30 181.30 Q960.85 180.33 980.40 181.30 Q999.95 180.15 1019.50 181.30 Q1024.50 181.30 1024.50 186.30 Q1023.40 197.03 1024.50 207.77 Q1025.65 218.50 1024.50 229.23 Q1023.65 239.97 1024.50 250.70 Q1024.50 255.70 1019.50 255.70 Q999.95 254.49 980.40 255.70 Q960.85 254.56 941.30 255.70 Q921.75 256.54 902.20 255.70 Q897.20 255.70 897.20 250.70 Q898.20 239.97 897.20 229.23 Q897.95 218.50 897.20 207.77 Q896.04 197.03 897.20 186.30 Q897.20 181.30 902.20 181.30Z" fill="none" stroke="#12b4f0" stroke-width="1.3"/>
<text x="958.40" y="196.60" font-family="Liberation Sans" font-size="10.8" font-weight="bold" font-style="normal" text-anchor="middle" fill="#1a1a1a" textLength="65.50" lengthAdjust="spacingAndGlyphs" >Accent label</text>
<rect x="906.60" y="208.60" width="25.10" height="22.70" rx="0" ry="0" fill="#9dc3e6" stroke="#22b0ee" stroke-width="1.3" />
<rect x="921.85" y="212.20" width="3.00" height="4.40" rx="0" ry="0" fill="#22b0ee" stroke="none" stroke-width="1" />
<rect x="913.05" y="219.60" width="12.80" height="8.70" rx="0" ry="0" fill="#8794a6" stroke="#22b0ee" stroke-width="0.9" />
<polygon points="910.45,220.00 919.45,211.80 928.45,220.00" fill="#6a788b" stroke="#22b0ee" stroke-width="0.9" stroke-linejoin="round"/>
<rect x="917.55" y="223.50" width="3.80" height="4.80" rx="0" ry="0" fill="#8794a6" stroke="#22b0ee" stroke-width="1.0" />
<rect x="937.80" y="208.60" width="25.10" height="22.70" rx="0" ry="0" fill="#9dc3e6" stroke="#22b0ee" stroke-width="1.3" />
<rect x="953.05" y="212.20" width="3.00" height="4.40" rx="0" ry="0" fill="#22b0ee" stroke="none" stroke-width="1" />
<rect x="944.25" y="219.60" width="12.80" height="8.70" rx="0" ry="0" fill="#8794a6" stroke="#22b0ee" stroke-width="0.9" />
<polygon points="941.65,220.00 950.65,211.80 959.65,220.00" fill="#6a788b" stroke="#22b0ee" stroke-width="0.9" stroke-linejoin="round"/>
<rect x="948.75" y="223.50" width="3.80" height="4.80" rx="0" ry="0" fill="#8794a6" stroke="#22b0ee" stroke-width="1.0" />
<rect x="969.10" y="208.60" width="24.80" height="22.70" rx="0" ry="0" fill="#9dc3e6" stroke="#22b0ee" stroke-width="1.3" />
<rect x="984.20" y="212.20" width="3.00" height="4.40" rx="0" ry="0" fill="#22b0ee" stroke="none" stroke-width="1" />
<rect x="975.40" y="219.60" width="12.80" height="8.70" rx="0" ry="0" fill="#8794a6" stroke="#22b0ee" stroke-width="0.9" />
<polygon points="972.80,220.00 981.80,211.80 990.80,220.00" fill="#6a788b" stroke="#22b0ee" stroke-width="0.9" stroke-linejoin="round"/>
<rect x="979.90" y="223.50" width="3.80" height="4.80" rx="0" ry="0" fill="#8794a6" stroke="#22b0ee" stroke-width="1.0" />
<text x="918.70" y="241.30" font-family="Liberation Sans" font-size="7.2" font-weight="normal" font-style="normal" text-anchor="middle" fill="#777" >1</text>
<text x="949.90" y="241.30" font-family="Liberation Sans" font-size="7.2" font-weight="normal" font-style="normal" text-anchor="middle" fill="#777" >2</text>
<text x="981.90" y="241.30" font-family="Liberation Sans" font-size="7.2" font-weight="normal" font-style="normal" text-anchor="middle" fill="#777" >3</text>
<text x="1000.50" y="239.80" font-family="Liberation Sans" font-size="6" font-weight="normal" font-style="normal" text-anchor="middle" fill="#aaa" >···</text>
<text x="1000.00" y="223.80" font-family="Liberation Serif" font-style="italic" font-size="12" fill="#3a3a3a" stroke="#3a3a3a" stroke-width="0.2">y</text>
<text x="1006.72" y="220.08" font-family="Liberation Serif" font-style="italic" font-size="7.92" fill="#3a3a3a" stroke="#3a3a3a" stroke-width="0.2">AC</text>
<text x="1006.24" y="226.44" font-family="Liberation Serif" font-style="italic" font-size="7.92" fill="#3a3a3a" stroke="#3a3a3a" stroke-width="0.2">t</text>
<path d="M1001.40 217.80 L1003.60 215.88 L1006.24 217.80" fill="none" stroke="#3a3a3a" stroke-width="0.8" />
<text x="76.6" y="325.2" font-family="Liberation Serif" font-size="21.3" fill="#000">Figure 1:</text>
<text x="163.2" y="325.2" font-family="Liberation Serif" font-size="21.3" font-style="italic" fill="#000" word-spacing="1.5">Schematic architecture of the proposed layer-adapted for end-to-end multi-accent ASR model.</text>
<rect x="63.30" y="385.50" width="223.40" height="257.25" rx="0" ry="0" fill="#e2f0d9" stroke="#a9d18e" stroke-width="2" />
<rect x="61.30" y="379.00" width="227.40" height="35.50" rx="5" ry="5" fill="#a9d18e" stroke="none" stroke-width="1" opacity="0.5" filter="url(#b1)"/>
<rect x="62.30" y="379.50" width="225.40" height="33.80" rx="4" ry="4" fill="#a9d18e" stroke="none" stroke-width="1" />
<text x="175.20" y="401.70" font-family="Liberation Sans" font-size="14" font-weight="normal" font-style="normal" text-anchor="middle" fill="#111" textLength="160.00" lengthAdjust="spacingAndGlyphs" stroke="#111" stroke-width="0.4">General Acoustic Encoder</text>
<polygon points="166.5,514 181.5,424 181.5,630 166.5,540" fill="url(#wedge)"/>
<rect x="181.30" y="417.30" width="92.10" height="219.90" rx="10" ry="10" fill="#fff" stroke="#111" stroke-width="1.25" stroke-dasharray="3.6 2.3"/>
<path d="M225.60 417.00 L225.60 637.20" fill="none" stroke="#111" stroke-width="1.6" />
<path d="M225.60 500.70 L266.60 500.70 L266.60 467.80 L230.60 467.80" fill="none" stroke="#111" stroke-width="1.5" />
<polygon points="226.60,467.80 231.80,465.20 231.80,470.40" fill="#111"/>
<path d="M225.60 553.70 L266.60 553.70 L266.60 506.40 L230.60 506.40" fill="none" stroke="#111" stroke-width="1.5" />
<polygon points="226.60,506.40 231.80,503.80 231.80,509.00" fill="#111"/>
<path d="M225.60 591.80 L266.60 591.80 L266.60 559.60 L230.60 559.60" fill="none" stroke="#111" stroke-width="1.5" />
<polygon points="226.60,559.60 231.80,557.00 231.80,562.20" fill="#111"/>
<path d="M225.60 624.50 L266.60 624.50 L266.60 598.30 L230.60 598.30" fill="none" stroke="#111" stroke-width="1.5" />
<polygon points="226.60,598.30 231.80,595.70 231.80,600.90" fill="#111"/>
<rect x="197.20" y="431.50" width="59.60" height="24.50" rx="1" ry="1" fill="#445" stroke="none" stroke-width="1" opacity="0.45" filter="url(#b1)"/>
<rect x="196.00" y="430.00" width="59.20" height="24.00" rx="0.5" ry="0.5" fill="#63bf8e" stroke="none" stroke-width="1" />
<text x="225.60" y="440.30" font-family="Liberation Sans" font-size="8.5" font-weight="normal" font-style="normal" text-anchor="middle" fill="#24453a" textLength="19.40" lengthAdjust="spacingAndGlyphs" >Layer</text>
<text x="225.60" y="450.50" font-family="Liberation Sans" font-size="8.5" font-weight="normal" font-style="normal" text-anchor="middle" fill="#24453a" textLength="21.60" lengthAdjust="spacingAndGlyphs" >Norm</text>
<rect x="197.20" y="474.50" width="59.60" height="16.80" rx="1" ry="1" fill="#445" stroke="none" stroke-width="1" opacity="0.45" filter="url(#b1)"/>
<rect x="196.00" y="473.00" width="59.20" height="16.30" rx="0.5" ry="0.5" fill="#63bf8e" stroke="none" stroke-width="1" />
<text x="225.60" y="484.50" font-family="Liberation Sans" font-size="9.3" font-weight="normal" font-style="normal" text-anchor="middle" fill="#24453a" textLength="15.90" lengthAdjust="spacingAndGlyphs" >FFN</text>
<rect x="190.00" y="513.50" width="73.90" height="31.00" rx="1" ry="1" fill="#445" stroke="none" stroke-width="1" opacity="0.45" filter="url(#b1)"/>
<rect x="188.80" y="512.00" width="73.50" height="30.50" rx="0.5" ry="0.5" fill="#92cc5c" stroke="none" stroke-width="1" />
<text x="225.60" y="525.00" font-family="Liberation Sans" font-size="8.4" font-weight="bold" font-style="normal" text-anchor="middle" fill="#1e3a1e" textLength="49.00" lengthAdjust="spacingAndGlyphs" >Convolution</text>
<text x="225.60" y="535.20" font-family="Liberation Sans" font-size="8.4" font-weight="bold" font-style="normal" text-anchor="middle" fill="#1e3a1e" textLength="56.00" lengthAdjust="spacingAndGlyphs" >Sub-sampling</text>
<rect x="197.20" y="565.90" width="59.60" height="17.20" rx="1" ry="1" fill="#445" stroke="none" stroke-width="1" opacity="0.45" filter="url(#b1)"/>
<rect x="196.00" y="564.40" width="59.20" height="16.70" rx="0.5" ry="0.5" fill="#63bf8e" stroke="none" stroke-width="1" />
<text x="225.60" y="576.30" font-family="Liberation Sans" font-size="9.3" font-weight="normal" font-style="normal" text-anchor="middle" fill="#24453a" textLength="27.00" lengthAdjust="spacingAndGlyphs" >MHSA</text>
<rect x="197.20" y="605.30" width="59.60" height="17.20" rx="1" ry="1" fill="#445" stroke="none" stroke-width="1" opacity="0.45" filter="url(#b1)"/>
<rect x="196.00" y="603.80" width="59.20" height="16.70" rx="0.5" ry="0.5" fill="#63bf8e" stroke="none" stroke-width="1" />
<text x="225.60" y="615.20" font-family="Liberation Sans" font-size="9.3" font-weight="normal" font-style="normal" text-anchor="middle" fill="#24453a" textLength="15.90" lengthAdjust="spacingAndGlyphs" >FFN</text>
<polygon points="225.60,455.00 222.80,460.60 228.40,460.60" fill="#111"/>
<polygon points="225.60,490.30 222.80,495.90 228.40,495.90" fill="#111"/>
<polygon points="225.60,543.50 222.80,549.10 228.40,549.10" fill="#111"/>
<polygon points="225.60,582.10 222.80,587.70 228.40,587.70" fill="#111"/>
<path d="M124.20 449.00 L124.20 430.60" fill="none" stroke="#111" stroke-width="1.8" />
<path d="M120.10 433.90 L124.20 429.80 L128.30 433.90" fill="none" stroke="#111" stroke-width="1.7" stroke-linejoin="miter" stroke-linecap="round"/>
<rect x="89.40" y="450.70" width="72.40" height="29.30" rx="1" ry="1" fill="#445" stroke="none" stroke-width="1" opacity="0.45" filter="url(#b1)"/>
<rect x="88.20" y="449.20" width="72.00" height="28.80" rx="3" ry="3" fill="#93b87b" stroke="none" stroke-width="1" />
<text x="124.20" y="467.30" font-family="Liberation Sans" font-size="9.6" font-weight="bold" font-style="normal" text-anchor="middle" fill="#16260f" textLength="48.50" lengthAdjust="spacingAndGlyphs" >Conformer</text>
<text x="69.00" y="467.30" font-family="Liberation Serif" font-size="10.8" font-weight="normal" font-style="italic" text-anchor="start" fill="#333" stroke="#333" stroke-width="0.2">N ×</text>
<path d="M124.20 502.00 L124.20 479.60" fill="none" stroke="#111" stroke-width="1.8" />
<path d="M120.10 482.90 L124.20 478.80 L128.30 482.90" fill="none" stroke="#111" stroke-width="1.7" stroke-linejoin="miter" stroke-linecap="round"/>
<rect x="83.90" y="503.50" width="83.90" height="49.30" rx="1" ry="1" fill="#445" stroke="none" stroke-width="1" opacity="0.45" filter="url(#b1)"/>
<rect x="82.70" y="502.00" width="83.50" height="48.80" rx="8" ry="8" fill="#5ab887" stroke="none" stroke-width="1" />
<text x="124.20" y="524.00" font-family="Liberation Sans" font-size="9.8" font-weight="bold" font-style="normal" text-anchor="middle" fill="#0f2a1c" textLength="51.50" lengthAdjust="spacingAndGlyphs" >Progressive</text>
<text x="124.20" y="535.80" font-family="Liberation Sans" font-size="9.8" font-weight="bold" font-style="normal" text-anchor="middle" fill="#0f2a1c" textLength="63.00" lengthAdjust="spacingAndGlyphs" >Sub-sampling</text>
<path d="M124.20 575.00 L124.20 552.40" fill="none" stroke="#111" stroke-width="1.8" />
<path d="M120.10 555.70 L124.20 551.60 L128.30 555.70" fill="none" stroke="#111" stroke-width="1.7" stroke-linejoin="miter" stroke-linecap="round"/>
<rect x="89.40" y="576.60" width="72.40" height="29.60" rx="1" ry="1" fill="#445" stroke="none" stroke-width="1" opacity="0.45" filter="url(#b1)"/>
<rect x="88.20" y="575.10" width="72.00" height="29.10" rx="3" ry="3" fill="#93b87b" stroke="none" stroke-width="1" />
<text x="124.20" y="593.50" font-family="Liberation Sans" font-size="9.6" font-weight="bold" font-style="normal" text-anchor="middle" fill="#16260f" textLength="48.50" lengthAdjust="spacingAndGlyphs" >Conformer</text>
<text x="69.00" y="593.80" font-family="Liberation Serif" font-size="10.8" font-weight="normal" font-style="italic" text-anchor="start" fill="#333" stroke="#333" stroke-width="0.2">N ×</text>
<path d="M124.20 625.30 L124.20 606.20" fill="none" stroke="#111" stroke-width="1.8" />
<path d="M120.10 609.50 L124.20 605.40 L128.30 609.50" fill="none" stroke="#111" stroke-width="1.7" stroke-linejoin="miter" stroke-linecap="round"/>
<rect x="321.70" y="385.50" width="307.90" height="257.45" rx="0" ry="0" fill="#fff2cc" stroke="#ffe699" stroke-width="1.6" />
<rect x="319.90" y="379.00" width="311.50" height="35.50" rx="5" ry="5" fill="#ffe699" stroke="none" stroke-width="1" opacity="0.5" filter="url(#b1)"/>
<rect x="320.90" y="379.50" width="309.50" height="33.80" rx="4" ry="4" fill="#ffe699" stroke="none" stroke-width="1" />
<text x="475.80" y="401.70" font-family="Liberation Sans" font-size="14" font-weight="normal" font-style="normal" text-anchor="middle" fill="#111" textLength="142.50" lengthAdjust="spacingAndGlyphs" stroke="#111" stroke-width="0.4">Layer-adapted Module</text>
<text x="338.80" y="442.10" font-family="Liberation Serif" font-size="11.2" font-weight="normal" font-style="italic" text-anchor="start" fill="#333" stroke="#333" stroke-width="0.2">N ×</text>
<rect x="337.2" y="454.30" width="1.7" height="1.6" fill="#333"/>
<rect x="337.2" y="457.10" width="1.7" height="1.6" fill="#333"/>
<rect x="337.2" y="459.80" width="1.7" height="1.6" fill="#333"/>
<rect x="337.2" y="467.70" width="1.7" height="1.6" fill="#333"/>
<rect x="337.2" y="470.60" width="1.7" height="1.6" fill="#333"/>
<rect x="337.2" y="473.40" width="1.7" height="1.6" fill="#333"/>
<rect x="361.60" y="429.50" width="26.50" height="72.00" rx="1" ry="1" fill="#5a4a00" stroke="none" stroke-width="1" opacity="0.5" filter="url(#b1)"/>
<rect x="360.10" y="428.00" width="26.20" height="70.80" rx="0" ry="0" fill="#ffc000" stroke="none" stroke-width="1" />
<text transform="translate(377.50,463.20) rotate(-90)" font-family="Liberation Sans" font-size="9.7" text-anchor="middle" fill="#5a4505" textLength="48.2" lengthAdjust="spacingAndGlyphs">Conformer</text>
<rect x="399.00" y="429.50" width="26.50" height="72.00" rx="1" ry="1" fill="#5a4a00" stroke="none" stroke-width="1" opacity="0.5" filter="url(#b1)"/>
<rect x="397.50" y="428.00" width="26.20" height="70.80" rx="0" ry="0" fill="#ffc000" stroke="none" stroke-width="1" />
<text transform="translate(414.90,463.20) rotate(-90)" font-family="Liberation Sans" font-size="9.7" text-anchor="middle" fill="#5a4505" textLength="48.2" lengthAdjust="spacingAndGlyphs">Conformer</text>
<rect x="436.30" y="429.50" width="26.50" height="72.00" rx="1" ry="1" fill="#5a4a00" stroke="none" stroke-width="1" opacity="0.5" filter="url(#b1)"/>
<rect x="434.80" y="428.00" width="26.20" height="70.80" rx="0" ry="0" fill="#ffc000" stroke="none" stroke-width="1" />
<text transform="translate(452.20,463.20) rotate(-90)" font-family="Liberation Sans" font-size="9.7" text-anchor="middle" fill="#5a4505" textLength="48.2" lengthAdjust="spacingAndGlyphs">Conformer</text>
<path d="M343.00 463.50 L360.10 463.50" fill="none" stroke="#1a1a1a" stroke-width="1.35" />
<path d="M356.60 459.20 L360.90 463.50 L356.60 467.80" fill="none" stroke="#1a1a1a" stroke-width="1.35" stroke-linejoin="miter" stroke-linecap="round"/>
<circle cx="349.8" cy="463.5" r="1.9" fill="#111"/>
<path d="M349.80 463.50 L349.80 512.00" fill="none" stroke="#222" stroke-width="1.3" />
<path d="M345.80 508.60 L349.80 512.60 L353.80 508.60" fill="none" stroke="#222" stroke-width="1.3" stroke-linejoin="miter" stroke-linecap="round"/>
<path d="M386.50 463.50 L396.40 463.50" fill="none" stroke="#1a1a1a" stroke-width="1.35" />
<path d="M392.90 459.20 L397.20 463.50 L392.90 467.80" fill="none" stroke="#1a1a1a" stroke-width="1.35" stroke-linejoin="miter" stroke-linecap="round"/>
<circle cx="387.7" cy="463.5" r="1.9" fill="#111"/>
<path d="M387.70 463.50 L387.70 512.00" fill="none" stroke="#222" stroke-width="1.3" />
<path d="M383.70 508.60 L387.70 512.60 L391.70 508.60" fill="none" stroke="#222" stroke-width="1.3" stroke-linejoin="miter" stroke-linecap="round"/>
<path d="M423.80 463.50 L433.60 463.50" fill="none" stroke="#1a1a1a" stroke-width="1.35" />
<path d="M430.10 459.20 L434.40 463.50 L430.10 467.80" fill="none" stroke="#1a1a1a" stroke-width="1.35" stroke-linejoin="miter" stroke-linecap="round"/>
<circle cx="425.8" cy="463.5" r="1.9" fill="#111"/>
<path d="M425.80 463.50 L425.80 512.00" fill="none" stroke="#222" stroke-width="1.3" />
<path d="M421.80 508.60 L425.80 512.60 L429.80 508.60" fill="none" stroke="#222" stroke-width="1.3" stroke-linejoin="miter" stroke-linecap="round"/>
<path d="M461.00 463.50 L470.90 463.50" fill="none" stroke="#1a1a1a" stroke-width="1.35" />
<path d="M467.40 459.20 L471.70 463.50 L467.40 467.80" fill="none" stroke="#1a1a1a" stroke-width="1.35" stroke-linejoin="miter" stroke-linecap="round"/>
<circle cx="464.2" cy="463.5" r="1.9" fill="#111"/>
<path d="M464.20 463.50 L464.20 512.00" fill="none" stroke="#222" stroke-width="1.3" />
<path d="M460.20 508.60 L464.20 512.60 L468.20 508.60" fill="none" stroke="#222" stroke-width="1.3" stroke-linejoin="miter" stroke-linecap="round"/>
<polygon points="334.50,522.80 365.50,504.90 364.40,547.70 332.90,566.00" fill="#f4b183" stroke="#1c1c1c" stroke-width="1.3" stroke-linejoin="miter"/>
<text x="349.50" y="530.40" font-family="Liberation Sans" font-size="9.6" font-weight="bold" font-style="normal" text-anchor="middle" fill="#3a281c" textLength="23.20" lengthAdjust="spacingAndGlyphs" >Layer</text>
<text x="350.80" y="542.00" font-family="Liberation Sans" font-size="9.6" font-weight="bold" font-style="normal" text-anchor="middle" fill="#3a281c" textLength="15.80" lengthAdjust="spacingAndGlyphs" >Vec</text>
<polygon points="372.40,522.80 403.40,504.90 402.30,547.70 370.80,566.00" fill="#f4b183" stroke="#1c1c1c" stroke-width="1.3" stroke-linejoin="miter"/>
<text x="387.40" y="530.40" font-family="Liberation Sans" font-size="9.6" font-weight="bold" font-style="normal" text-anchor="middle" fill="#3a281c" textLength="23.20" lengthAdjust="spacingAndGlyphs" >Layer</text>
<text x="388.70" y="542.00" font-family="Liberation Sans" font-size="9.6" font-weight="bold" font-style="normal" text-anchor="middle" fill="#3a281c" textLength="15.80" lengthAdjust="spacingAndGlyphs" >Vec</text>
<polygon points="410.50,522.80 441.50,504.90 440.40,547.70 408.90,566.00" fill="#f4b183" stroke="#1c1c1c" stroke-width="1.3" stroke-linejoin="miter"/>
<text x="425.50" y="530.40" font-family="Liberation Sans" font-size="9.6" font-weight="bold" font-style="normal" text-anchor="middle" fill="#3a281c" textLength="23.20" lengthAdjust="spacingAndGlyphs" >Layer</text>
<text x="426.80" y="542.00" font-family="Liberation Sans" font-size="9.6" font-weight="bold" font-style="normal" text-anchor="middle" fill="#3a281c" textLength="15.80" lengthAdjust="spacingAndGlyphs" >Vec</text>
<polygon points="448.70,522.80 479.70,504.90 478.60,547.70 447.10,566.00" fill="#f4b183" stroke="#1c1c1c" stroke-width="1.3" stroke-linejoin="miter"/>
<text x="463.70" y="530.40" font-family="Liberation Sans" font-size="9.6" font-weight="bold" font-style="normal" text-anchor="middle" fill="#3a281c" textLength="23.20" lengthAdjust="spacingAndGlyphs" >Layer</text>
<text x="465.00" y="542.00" font-family="Liberation Sans" font-size="9.6" font-weight="bold" font-style="normal" text-anchor="middle" fill="#3a281c" textLength="15.80" lengthAdjust="spacingAndGlyphs" >Vec</text>
<path d="M348.6 557.6 C349.3 573 367 586 394.5 587.6" fill="none" stroke="#111" stroke-width="1.2"/>
<path d="M386.2 558.4 C386.3 566 388.5 568 392 570 C396 572.5 397.5 575 398.09999999999997 580.0" fill="none" stroke="#111" stroke-width="1.2"/>
<path d="M424.7 557.6 C424.6 566 422 568 418 570 C412 572.5 409.5 575 407.7 580.0" fill="none" stroke="#111" stroke-width="1.2"/>
<path d="M462.8 557.6 C462 573 440 586 411.09999999999997 587.6" fill="none" stroke="#111" stroke-width="1.2"/>
<path d="M391.30 583.80 L395.10 587.60 L391.30 591.40" fill="none" stroke="#111" stroke-width="1.3" stroke-linejoin="miter" stroke-linecap="round"/>
<path d="M414.30 583.80 L410.50 587.60 L414.30 591.40" fill="none" stroke="#111" stroke-width="1.3" stroke-linejoin="miter" stroke-linecap="round"/>
<path d="M393.50 579.00 L398.30 580.40 L400.10 575.40" fill="none" stroke="#111" stroke-width="1.3" />
<path d="M412.10 579.00 L407.30 580.40 L405.50 575.40" fill="none" stroke="#111" stroke-width="1.3" />
<circle cx="402.7" cy="587.4" r="6.9" fill="#fff" stroke="#111" stroke-width="1.2"/>
<path d="M400.10 587.40 L405.30 587.40" fill="none" stroke="#111" stroke-width="0.9" />
<path d="M402.70 584.80 L402.70 590.00" fill="none" stroke="#111" stroke-width="0.9" />
<text x="346.80" y="586.60" font-family="Liberation Serif" font-style="italic" font-size="11" fill="#5e5c50" stroke="#5e5c50" stroke-width="0.3">h</text>
<text x="352.85" y="582.42" font-family="Liberation Serif" font-style="italic" font-size="7.04" fill="#5e5c50" stroke="#5e5c50" stroke-width="0.25">GA</text>
<text x="352.52" y="589.35" font-family="Liberation Serif" font-style="italic" font-size="7.04" fill="#5e5c50" stroke="#5e5c50" stroke-width="0.25">i−2</text>
<text x="374.00" y="579.00" font-family="Liberation Serif" font-style="italic" font-size="11" fill="#5e5c50" stroke="#5e5c50" stroke-width="0.3">h</text>
<text x="380.05" y="574.82" font-family="Liberation Serif" font-style="italic" font-size="7.04" fill="#5e5c50" stroke="#5e5c50" stroke-width="0.25">GA</text>
<text x="379.72" y="581.75" font-family="Liberation Serif" font-style="italic" font-size="7.04" fill="#5e5c50" stroke="#5e5c50" stroke-width="0.25">i−1</text>
<text x="417.30" y="578.40" font-family="Liberation Serif" font-style="italic" font-size="11" fill="#5e5c50" stroke="#5e5c50" stroke-width="0.3">h</text>
<text x="423.35" y="574.22" font-family="Liberation Serif" font-style="italic" font-size="7.04" fill="#5e5c50" stroke="#5e5c50" stroke-width="0.25">GA</text>
<text x="423.02" y="581.15" font-family="Liberation Serif" font-style="italic" font-size="7.04" fill="#5e5c50" stroke="#5e5c50" stroke-width="0.25">i</text>
<text x="449.10" y="585.40" font-family="Liberation Serif" font-style="italic" font-size="11" fill="#5e5c50" stroke="#5e5c50" stroke-width="0.3">h</text>
<text x="455.15" y="581.22" font-family="Liberation Serif" font-style="italic" font-size="7.04" fill="#5e5c50" stroke="#5e5c50" stroke-width="0.25">GA</text>
<text x="454.82" y="588.15" font-family="Liberation Serif" font-style="italic" font-size="7.04" fill="#5e5c50" stroke="#5e5c50" stroke-width="0.25">i+1</text>
<path d="M402.70 594.90 L402.70 598.50 L470.00 598.50" fill="none" stroke="#111" stroke-width="1.35" stroke-dasharray="3.6 2.3"/>
<path d="M468.30 595.10 L471.70 598.50 L468.30 601.90" fill="none" stroke="#111" stroke-width="1.2" stroke-linejoin="miter" stroke-linecap="round"/>
<text x="439.00" y="612.80" font-family="Liberation Sans" font-size="9.4" font-weight="bold" font-style="normal" text-anchor="middle" fill="#222" textLength="29.00" lengthAdjust="spacingAndGlyphs" >Type 2</text>
<text x="503.00" y="518.80" font-family="Liberation Sans" font-size="9.4" font-weight="bold" font-style="normal" text-anchor="middle" fill="#222" textLength="29.50" lengthAdjust="spacingAndGlyphs" >Type 1</text>
<path d="M488.40 526.50 L519.00 526.50" fill="none" stroke="#111" stroke-width="1.35" stroke-dasharray="3.6 2.3"/>
<path d="M517.00 523.10 L520.40 526.50 L517.00 529.90" fill="none" stroke="#111" stroke-width="1.2" stroke-linejoin="miter" stroke-linecap="round"/>
<rect x="521.00" y="517.00" width="48.20" height="19.50" rx="4" ry="4" fill="#fff" stroke="#111" stroke-width="1.1" />
<text x="545.00" y="530.20" font-family="Liberation Sans" font-size="9.6" font-weight="bold" font-style="normal" text-anchor="middle" fill="#222" textLength="31.00" lengthAdjust="spacingAndGlyphs" >concat</text>
<path d="M544.80 538.50 L544.80 562.50" fill="none" stroke="#111" stroke-width="1.35" stroke-dasharray="3.6 2.3"/>
<path d="M541.40 560.40 L544.80 563.80 L548.20 560.40" fill="none" stroke="#111" stroke-width="1.2" stroke-linejoin="miter" stroke-linecap="round"/>
<path d="M477.50 429.70 Q500.70 428.95 523.90 429.70 Q547.10 430.60 570.30 429.70 Q593.50 428.63 616.70 429.70 Q621.70 429.70 621.70 434.70 Q620.99 444.30 621.70 453.90 Q620.71 463.50 621.70 473.10 Q622.82 482.70 621.70 492.30 Q621.70 497.30 616.70 497.30 Q593.50 498.17 570.30 497.30 Q547.10 498.28 523.90 497.30 Q500.70 496.14 477.50 497.30 Q472.50 497.30 472.50 492.30 Q471.61 482.70 472.50 473.10 Q471.24 463.50 472.50 453.90 Q471.63 444.30 472.50 434.70 Q472.50 429.70 477.50 429.70Z" fill="#fff2cc" stroke="none"/>
<path d="M477.50 429.70 Q500.70 428.95 523.90 429.70 Q547.10 430.60 570.30 429.70 Q593.50 428.63 616.70 429.70 Q621.70 429.70 621.70 434.70 Q620.99 444.30 621.70 453.90 Q620.71 463.50 621.70 473.10 Q622.82 482.70 621.70 492.30 Q621.70 497.30 616.70 497.30 Q593.50 498.17 570.30 497.30 Q547.10 498.28 523.90 497.30 Q500.70 496.14 477.50 497.30 Q472.50 497.30 472.50 492.30 Q471.61 482.70 472.50 473.10 Q471.24 463.50 472.50 453.90 Q471.63 444.30 472.50 434.70 Q472.50 429.70 477.50 429.70Z" fill="none" stroke="#c5e0b4" stroke-width="3.5" opacity="0.55" filter="url(#b2)"/>
<path d="M477.50 429.70 Q500.70 428.95 523.90 429.70 Q547.10 430.60 570.30 429.70 Q593.50 428.63 616.70 429.70 Q621.70 429.70 621.70 434.70 Q620.99 444.30 621.70 453.90 Q620.71 463.50 621.70 473.10 Q622.82 482.70 621.70 492.30 Q621.70 497.30 616.70 497.30 Q593.50 498.17 570.30 497.30 Q547.10 498.28 523.90 497.30 Q500.70 496.14 477.50 497.30 Q472.50 497.30 472.50 492.30 Q471.61 482.70 472.50 473.10 Q471.24 463.50 472.50 453.90 Q471.63 444.30 472.50 434.70 Q472.50 429.70 477.50 429.70Z" fill="none" stroke="#b1d599" stroke-width="1.4"/>
<text x="544.80" y="442.80" font-family="Liberation Sans" font-size="9.3" font-weight="bold" font-style="normal" text-anchor="middle" fill="#222" textLength="133.50" lengthAdjust="spacingAndGlyphs" >General acoustic embedding</text>
<polygon points="506.80,465.80 527.30,454.70 526.90,483.70 506.00,494.80" fill="#c5e0b4" stroke="#f6faef" stroke-width="1.3" stroke-linejoin="round" paint-order="stroke"/>
<polygon points="518.90,465.80 539.40,454.70 539.00,483.70 518.10,494.80" fill="#c5e0b4" stroke="#f6faef" stroke-width="1.3" stroke-linejoin="round" paint-order="stroke"/>
<polygon points="531.00,465.80 551.50,454.70 551.10,483.70 530.20,494.80" fill="#c5e0b4" stroke="#f6faef" stroke-width="1.3" stroke-linejoin="round" paint-order="stroke"/>
<polygon points="543.10,465.80 563.60,454.70 563.20,483.70 542.30,494.80" fill="#c5e0b4" stroke="#f6faef" stroke-width="1.3" stroke-linejoin="round" paint-order="stroke"/>
<polygon points="555.20,465.80 575.70,454.70 575.30,483.70 554.40,494.80" fill="#c5e0b4" stroke="#f6faef" stroke-width="1.3" stroke-linejoin="round" paint-order="stroke"/>
<polygon points="567.30,465.80 587.80,454.70 587.40,483.70 566.50,494.80" fill="#c5e0b4" stroke="#f6faef" stroke-width="1.3" stroke-linejoin="round" paint-order="stroke"/>
<path d="M517.30 459.20 C519.30 447.10 557.90 444.10 574.70 455.60" fill="none" stroke="#9dcc7f" stroke-width="1.25"/>
<polygon points="577.90,458.60 572.10,456.00 576.90,453.30" fill="#6ab04c"/>
<text x="579.30" y="455.50" font-family="Liberation Serif" font-size="10.8" font-weight="normal" font-style="italic" text-anchor="start" fill="#333" stroke="#333" stroke-width="0.25">N</text>
<text x="593.40" y="476.00" font-family="Liberation Serif" font-style="italic" font-size="10.8" fill="#3a3a3a" stroke="#3a3a3a" stroke-width="0.25">H</text>
<text x="601.50" y="472.11" font-family="Liberation Serif" font-style="italic" font-size="7.34" fill="#3a3a3a" stroke="#3a3a3a" stroke-width="0.2">GA</text>
<text x="600.96" y="478.59" font-family="Liberation Serif" font-style="italic" font-size="7.34" fill="#3a3a3a" stroke="#3a3a3a" stroke-width="0.2">t</text>
<path d="M476.80 564.80 Q499.48 565.99 522.17 564.80 Q544.85 566.10 567.53 564.80 Q590.22 563.97 612.90 564.80 Q617.90 564.80 617.90 569.80 Q617.16 579.27 617.90 588.73 Q618.69 598.20 617.90 607.67 Q616.63 617.13 617.90 626.60 Q617.90 631.60 612.90 631.60 Q590.22 632.66 567.53 631.60 Q544.85 632.83 522.17 631.60 Q499.48 632.44 476.80 631.60 Q471.80 631.60 471.80 626.60 Q470.86 617.13 471.80 607.67 Q472.50 598.20 471.80 588.73 Q472.91 579.27 471.80 569.80 Q471.80 564.80 476.80 564.80Z" fill="#fff2cc" stroke="none"/>
<path d="M476.80 564.80 Q499.48 565.99 522.17 564.80 Q544.85 566.10 567.53 564.80 Q590.22 563.97 612.90 564.80 Q617.90 564.80 617.90 569.80 Q617.16 579.27 617.90 588.73 Q618.69 598.20 617.90 607.67 Q616.63 617.13 617.90 626.60 Q617.90 631.60 612.90 631.60 Q590.22 632.66 567.53 631.60 Q544.85 632.83 522.17 631.60 Q499.48 632.44 476.80 631.60 Q471.80 631.60 471.80 626.60 Q470.86 617.13 471.80 607.67 Q472.50 598.20 471.80 588.73 Q472.91 579.27 471.80 569.80 Q471.80 564.80 476.80 564.80Z" fill="none" stroke="#c5e0b4" stroke-width="3.5" opacity="0.55" filter="url(#b2)"/>
<path d="M476.80 564.80 Q499.48 565.99 522.17 564.80 Q544.85 566.10 567.53 564.80 Q590.22 563.97 612.90 564.80 Q617.90 564.80 617.90 569.80 Q617.16 579.27 617.90 588.73 Q618.69 598.20 617.90 607.67 Q616.63 617.13 617.90 626.60 Q617.90 631.60 612.90 631.60 Q590.22 632.66 567.53 631.60 Q544.85 632.83 522.17 631.60 Q499.48 632.44 476.80 631.60 Q471.80 631.60 471.80 626.60 Q470.86 617.13 471.80 607.67 Q472.50 598.20 471.80 588.73 Q472.91 579.27 471.80 569.80 Q471.80 564.80 476.80 564.80Z" fill="none" stroke="#b1d599" stroke-width="1.4"/>
<text x="542.80" y="577.60" font-family="Liberation Sans" font-size="9.8" font-weight="bold" font-style="normal" text-anchor="middle" fill="#222" textLength="71.00" lengthAdjust="spacingAndGlyphs" >Accent feature</text>
<polygon points="504.90,601.00 525.30,589.90 524.90,618.20 504.10,629.30" fill="#c55a11" stroke="#fbead8" stroke-width="1.3" stroke-linejoin="round" paint-order="stroke"/>
<polygon points="516.94,601.00 537.34,589.90 536.94,618.20 516.14,629.30" fill="#c55a11" stroke="#fbead8" stroke-width="1.3" stroke-linejoin="round" paint-order="stroke"/>
<polygon points="528.98,601.00 549.38,589.90 548.98,618.20 528.18,629.30" fill="#c55a11" stroke="#fbead8" stroke-width="1.3" stroke-linejoin="round" paint-order="stroke"/>
<polygon points="541.02,601.00 561.42,589.90 561.02,618.20 540.22,629.30" fill="#c55a11" stroke="#fbead8" stroke-width="1.3" stroke-linejoin="round" paint-order="stroke"/>
<polygon points="553.06,601.00 573.46,589.90 573.06,618.20 552.26,629.30" fill="#c55a11" stroke="#fbead8" stroke-width="1.3" stroke-linejoin="round" paint-order="stroke"/>
<polygon points="565.10,601.00 585.50,589.90 585.10,618.20 564.30,629.30" fill="#c55a11" stroke="#fbead8" stroke-width="1.3" stroke-linejoin="round" paint-order="stroke"/>
<path d="M515.50 594.20 C517.50 581.80 556.20 578.80 573.00 590.60" fill="none" stroke="#c9906c" stroke-width="1.25"/>
<polygon points="576.20,593.60 570.40,591.00 575.20,588.30" fill="#8a3f0e"/>
<text x="577.50" y="588.40" font-family="Liberation Serif" font-size="10.8" font-weight="normal" font-style="italic" text-anchor="start" fill="#333" stroke="#333" stroke-width="0.25">N</text>
<text x="591.30" y="609.70" font-family="Liberation Serif" font-style="italic" font-size="10.8" fill="#3a3a3a" stroke="#3a3a3a" stroke-width="0.25">H</text>
<text x="599.40" y="605.81" font-family="Liberation Serif" font-style="italic" font-size="7.34" fill="#3a3a3a" stroke="#3a3a3a" stroke-width="0.2">AC</text>
<text x="598.86" y="612.29" font-family="Liberation Serif" font-style="italic" font-size="7.34" fill="#3a3a3a" stroke="#3a3a3a" stroke-width="0.2">t</text>
<rect x="663.10" y="385.50" width="325.70" height="257.25" rx="0" ry="0" fill="#f9dbe3" stroke="#f4b9cd" stroke-width="2" />
<rect x="661.10" y="379.00" width="329.70" height="35.50" rx="5" ry="5" fill="#f4b9cd" stroke="none" stroke-width="1" opacity="0.5" filter="url(#b1)"/>
<rect x="662.10" y="379.50" width="327.70" height="33.80" rx="4" ry="4" fill="#f4b9cd" stroke="none" stroke-width="1" />
<text x="825.70" y="401.70" font-family="Liberation Sans" font-size="14" font-weight="normal" font-style="normal" text-anchor="middle" fill="#111" textLength="207.00" lengthAdjust="spacingAndGlyphs" stroke="#111" stroke-width="0.4">Cross Information Fusion Module</text>
<path d="M784.80 494.20 L784.80 489.20 L827.70 489.20 L827.70 477.00" fill="none" stroke="#111" stroke-width="1.35" />
<path d="M823.90 480.00 L827.70 476.20 L831.50 480.00" fill="none" stroke="#111" stroke-width="1.35" stroke-linejoin="miter" stroke-linecap="round"/>
<path d="M866.80 477.00 L866.80 522.70 L905.80 522.70" fill="none" stroke="#111" stroke-width="1.35" />
<path d="M863.00 480.00 L866.80 476.20 L870.60 480.00" fill="none" stroke="#111" stroke-width="1.35" stroke-linejoin="miter" stroke-linecap="round"/>
<path d="M905.80 477.00 L905.80 571.00" fill="none" stroke="#111" stroke-width="1.35" />
<path d="M902.00 480.00 L905.80 476.20 L909.60 480.00" fill="none" stroke="#111" stroke-width="1.35" stroke-linejoin="miter" stroke-linecap="round"/>
<path d="M823.70 554.20 L823.70 564.00 L905.80 564.00" fill="none" stroke="#111" stroke-width="1.35" />
<path d="M819.90 557.20 L823.70 553.40 L827.50 557.20" fill="none" stroke="#111" stroke-width="1.35" stroke-linejoin="miter" stroke-linecap="round"/>
<path d="M746.50 554.20 L746.50 571.00" fill="none" stroke="#111" stroke-width="1.35" />
<path d="M742.70 557.20 L746.50 553.40 L750.30 557.20" fill="none" stroke="#111" stroke-width="1.35" stroke-linejoin="miter" stroke-linecap="round"/>
<path d="M746.50 566.00 L785.30 566.00 L785.30 554.20" fill="none" stroke="#111" stroke-width="1.35" />
<path d="M781.50 557.20 L785.30 553.40 L789.10 557.20" fill="none" stroke="#111" stroke-width="1.35" stroke-linejoin="miter" stroke-linecap="round"/>
<path d="M866.80 449.20 L866.80 441.00" fill="none" stroke="#111" stroke-width="1.35" />
<path d="M863.50 443.50 L866.80 440.20 L870.10 443.50" fill="none" stroke="#111" stroke-width="1.3" stroke-linejoin="miter" stroke-linecap="round"/>
<path d="M785.30 525.70 L785.30 516.00" fill="none" stroke="#111" stroke-width="1.35" />
<path d="M782.00 518.50 L785.30 515.20 L788.60 518.50" fill="none" stroke="#111" stroke-width="1.3" stroke-linejoin="miter" stroke-linecap="round"/>
<rect x="814.00" y="420.90" width="108.70" height="20.40" rx="3" ry="3" fill="#634" stroke="none" stroke-width="1" opacity="0.4" filter="url(#b1)"/>
<rect x="813.00" y="419.40" width="108.20" height="19.70" rx="3" ry="3" fill="#d5a6d8" stroke="#f7c6d8" stroke-width="0.6" />
<text x="866.80" y="432.80" font-family="Liberation Sans" font-size="10" font-weight="bold" font-style="normal" text-anchor="middle" fill="#2a1030" >Relu</text>
<rect x="810.30" y="450.70" width="116.10" height="26.70" rx="4" ry="4" fill="#634" stroke="none" stroke-width="1" opacity="0.4" filter="url(#b1)"/>
<rect x="809.30" y="449.20" width="115.60" height="26.00" rx="4" ry="4" fill="#de5fbe" stroke="#f7c6d8" stroke-width="0.6" />
<text x="866.80" y="466.00" font-family="Liberation Sans" font-size="10.4" font-weight="bold" font-style="normal" text-anchor="middle" fill="#2a0620" textLength="51.00" lengthAdjust="spacingAndGlyphs" >Attention</text>
<rect x="732.20" y="495.70" width="108.00" height="20.70" rx="3" ry="3" fill="#634" stroke="none" stroke-width="1" opacity="0.4" filter="url(#b1)"/>
<rect x="731.20" y="494.20" width="107.50" height="20.00" rx="3" ry="3" fill="#d5a6d8" stroke="#f7c6d8" stroke-width="0.6" />
<text x="785.00" y="507.60" font-family="Liberation Sans" font-size="10" font-weight="bold" font-style="normal" text-anchor="middle" fill="#2a1030" >Relu</text>
<rect x="728.50" y="527.20" width="116.00" height="27.40" rx="4" ry="4" fill="#634" stroke="none" stroke-width="1" opacity="0.4" filter="url(#b1)"/>
<rect x="727.50" y="525.70" width="115.50" height="26.70" rx="4" ry="4" fill="#de5fbe" stroke="#f7c6d8" stroke-width="0.6" />
<text x="785.30" y="542.90" font-family="Liberation Sans" font-size="10.4" font-weight="bold" font-style="normal" text-anchor="middle" fill="#2a0620" textLength="51.00" lengthAdjust="spacingAndGlyphs" >Attention</text>
<text x="816.00" y="485.00" font-family="Liberation Serif" font-size="12" font-weight="normal" font-style="italic" text-anchor="middle" fill="#333" stroke="#333" stroke-width="0.2">q</text>
<text x="854.70" y="485.00" font-family="Liberation Serif" font-size="12" font-weight="normal" font-style="italic" text-anchor="middle" fill="#333" stroke="#333" stroke-width="0.2">k</text>
<text x="894.50" y="485.00" font-family="Liberation Serif" font-size="12" font-weight="normal" font-style="italic" text-anchor="middle" fill="#333" stroke="#333" stroke-width="0.2">v</text>
<text x="732.80" y="563.20" font-family="Liberation Serif" font-size="12" font-weight="normal" font-style="italic" text-anchor="middle" fill="#333" stroke="#333" stroke-width="0.2">k</text>
<text x="771.20" y="563.20" font-family="Liberation Serif" font-size="12" font-weight="normal" font-style="italic" text-anchor="middle" fill="#333" stroke="#333" stroke-width="0.2">v</text>
<text x="812.00" y="563.20" font-family="Liberation Serif" font-size="12" font-weight="normal" font-style="italic" text-anchor="middle" fill="#333" stroke="#333" stroke-width="0.2">q</text>
<path d="M677.40 570.80 Q700.50 569.92 723.60 570.80 Q746.70 571.75 769.80 570.80 Q792.90 571.69 816.00 570.80 Q821.00 570.80 821.00 575.80 Q821.70 585.27 821.00 594.73 Q819.80 604.20 821.00 613.67 Q819.74 623.13 821.00 632.60 Q821.00 637.60 816.00 637.60 Q792.90 638.73 769.80 637.60 Q746.70 636.75 723.60 637.60 Q700.50 636.66 677.40 637.60 Q672.40 637.60 672.40 632.60 Q673.32 623.13 672.40 613.67 Q671.25 604.20 672.40 594.73 Q671.53 585.27 672.40 575.80 Q672.40 570.80 677.40 570.80Z" fill="#f9dbe3" stroke="none"/>
<path d="M677.40 570.80 Q700.50 569.92 723.60 570.80 Q746.70 571.75 769.80 570.80 Q792.90 571.69 816.00 570.80 Q821.00 570.80 821.00 575.80 Q821.70 585.27 821.00 594.73 Q819.80 604.20 821.00 613.67 Q819.74 623.13 821.00 632.60 Q821.00 637.60 816.00 637.60 Q792.90 638.73 769.80 637.60 Q746.70 636.75 723.60 637.60 Q700.50 636.66 677.40 637.60 Q672.40 637.60 672.40 632.60 Q673.32 623.13 672.40 613.67 Q671.25 604.20 672.40 594.73 Q671.53 585.27 672.40 575.80 Q672.40 570.80 677.40 570.80Z" fill="none" stroke="#c5e0b4" stroke-width="3.5" opacity="0.55" filter="url(#b2)"/>
<path d="M677.40 570.80 Q700.50 569.92 723.60 570.80 Q746.70 571.75 769.80 570.80 Q792.90 571.69 816.00 570.80 Q821.00 570.80 821.00 575.80 Q821.70 585.27 821.00 594.73 Q819.80 604.20 821.00 613.67 Q819.74 623.13 821.00 632.60 Q821.00 637.60 816.00 637.60 Q792.90 638.73 769.80 637.60 Q746.70 636.75 723.60 637.60 Q700.50 636.66 677.40 637.60 Q672.40 637.60 672.40 632.60 Q673.32 623.13 672.40 613.67 Q671.25 604.20 672.40 594.73 Q671.53 585.27 672.40 575.80 Q672.40 570.80 677.40 570.80Z" fill="none" stroke="#b1d599" stroke-width="1.4"/>
<text x="744.20" y="583.50" font-family="Liberation Sans" font-size="9.3" font-weight="bold" font-style="normal" text-anchor="middle" fill="#222" textLength="133.50" lengthAdjust="spacingAndGlyphs" >General acoustic embedding</text>
<polygon points="706.20,606.30 726.50,595.50 726.10,624.40 705.40,635.20" fill="#c5e0b4" stroke="#f4f3ec" stroke-width="1.3" stroke-linejoin="round" paint-order="stroke"/>
<polygon points="718.30,606.30 738.60,595.50 738.20,624.40 717.50,635.20" fill="#c5e0b4" stroke="#f4f3ec" stroke-width="1.3" stroke-linejoin="round" paint-order="stroke"/>
<polygon points="730.40,606.30 750.70,595.50 750.30,624.40 729.60,635.20" fill="#c5e0b4" stroke="#f4f3ec" stroke-width="1.3" stroke-linejoin="round" paint-order="stroke"/>
<polygon points="742.50,606.30 762.80,595.50 762.40,624.40 741.70,635.20" fill="#c5e0b4" stroke="#f4f3ec" stroke-width="1.3" stroke-linejoin="round" paint-order="stroke"/>
<polygon points="754.60,606.30 774.90,595.50 774.50,624.40 753.80,635.20" fill="#c5e0b4" stroke="#f4f3ec" stroke-width="1.3" stroke-linejoin="round" paint-order="stroke"/>
<polygon points="766.70,606.30 787.00,595.50 786.60,624.40 765.90,635.20" fill="#c5e0b4" stroke="#f4f3ec" stroke-width="1.3" stroke-linejoin="round" paint-order="stroke"/>
<path d="M717.10 599.80 C719.10 587.70 757.50 584.70 774.30 596.20" fill="none" stroke="#9dcc7f" stroke-width="1.25"/>
<polygon points="777.50,599.20 771.70,596.60 776.50,593.90" fill="#6ab04c"/>
<text x="779.10" y="595.90" font-family="Liberation Serif" font-size="10.8" font-weight="normal" font-style="italic" text-anchor="start" fill="#333" stroke="#333" stroke-width="0.25">N</text>
<text x="792.80" y="616.60" font-family="Liberation Serif" font-style="italic" font-size="10.8" fill="#3a3a3a" stroke="#3a3a3a" stroke-width="0.25">H</text>
<text x="800.90" y="612.71" font-family="Liberation Serif" font-style="italic" font-size="7.34" fill="#3a3a3a" stroke="#3a3a3a" stroke-width="0.2">GA</text>
<text x="800.36" y="619.19" font-family="Liberation Serif" font-style="italic" font-size="7.34" fill="#3a3a3a" stroke="#3a3a3a" stroke-width="0.2">t</text>
<path d="M837.70 570.80 Q860.30 572.00 882.90 570.80 Q905.50 569.72 928.10 570.80 Q950.70 571.65 973.30 570.80 Q978.30 570.80 978.30 575.80 Q979.26 585.27 978.30 594.73 Q979.11 604.20 978.30 613.67 Q979.47 623.13 978.30 632.60 Q978.30 637.60 973.30 637.60 Q950.70 638.83 928.10 637.60 Q905.50 636.35 882.90 637.60 Q860.30 636.47 837.70 637.60 Q832.70 637.60 832.70 632.60 Q833.96 623.13 832.70 613.67 Q831.73 604.20 832.70 594.73 Q833.79 585.27 832.70 575.80 Q832.70 570.80 837.70 570.80Z" fill="#f9dbe3" stroke="none"/>
<path d="M837.70 570.80 Q860.30 572.00 882.90 570.80 Q905.50 569.72 928.10 570.80 Q950.70 571.65 973.30 570.80 Q978.30 570.80 978.30 575.80 Q979.26 585.27 978.30 594.73 Q979.11 604.20 978.30 613.67 Q979.47 623.13 978.30 632.60 Q978.30 637.60 973.30 637.60 Q950.70 638.83 928.10 637.60 Q905.50 636.35 882.90 637.60 Q860.30 636.47 837.70 637.60 Q832.70 637.60 832.70 632.60 Q833.96 623.13 832.70 613.67 Q831.73 604.20 832.70 594.73 Q833.79 585.27 832.70 575.80 Q832.70 570.80 837.70 570.80Z" fill="none" stroke="#c5e0b4" stroke-width="3.5" opacity="0.55" filter="url(#b2)"/>
<path d="M837.70 570.80 Q860.30 572.00 882.90 570.80 Q905.50 569.72 928.10 570.80 Q950.70 571.65 973.30 570.80 Q978.30 570.80 978.30 575.80 Q979.26 585.27 978.30 594.73 Q979.11 604.20 978.30 613.67 Q979.47 623.13 978.30 632.60 Q978.30 637.60 973.30 637.60 Q950.70 638.83 928.10 637.60 Q905.50 636.35 882.90 637.60 Q860.30 636.47 837.70 637.60 Q832.70 637.60 832.70 632.60 Q833.96 623.13 832.70 613.67 Q831.73 604.20 832.70 594.73 Q833.79 585.27 832.70 575.80 Q832.70 570.80 837.70 570.80Z" fill="none" stroke="#b1d599" stroke-width="1.4"/>
<text x="903.20" y="583.50" font-family="Liberation Sans" font-size="9.8" font-weight="bold" font-style="normal" text-anchor="middle" fill="#222" textLength="71.00" lengthAdjust="spacingAndGlyphs" >Accent feature</text>
<polygon points="865.50,607.00 885.80,596.10 885.40,624.30 864.70,635.20" fill="#c55a11" stroke="#fbe3da" stroke-width="1.3" stroke-linejoin="round" paint-order="stroke"/>
<polygon points="877.58,607.00 897.88,596.10 897.48,624.30 876.78,635.20" fill="#c55a11" stroke="#fbe3da" stroke-width="1.3" stroke-linejoin="round" paint-order="stroke"/>
<polygon points="889.66,607.00 909.96,596.10 909.56,624.30 888.86,635.20" fill="#c55a11" stroke="#fbe3da" stroke-width="1.3" stroke-linejoin="round" paint-order="stroke"/>
<polygon points="901.74,607.00 922.04,596.10 921.64,624.30 900.94,635.20" fill="#c55a11" stroke="#fbe3da" stroke-width="1.3" stroke-linejoin="round" paint-order="stroke"/>
<polygon points="913.82,607.00 934.12,596.10 933.72,624.30 913.02,635.20" fill="#c55a11" stroke="#fbe3da" stroke-width="1.3" stroke-linejoin="round" paint-order="stroke"/>
<polygon points="925.90,607.00 946.20,596.10 945.80,624.30 925.10,635.20" fill="#c55a11" stroke="#fbe3da" stroke-width="1.3" stroke-linejoin="round" paint-order="stroke"/>
<path d="M876.10 599.80 C878.10 588.10 916.60 585.10 933.40 596.20" fill="none" stroke="#c9906c" stroke-width="1.25"/>
<polygon points="936.60,599.20 930.80,596.60 935.60,593.90" fill="#8a3f0e"/>
<text x="938.10" y="594.80" font-family="Liberation Serif" font-size="10.8" font-weight="normal" font-style="italic" text-anchor="start" fill="#333" stroke="#333" stroke-width="0.25">N</text>
<text x="951.80" y="615.80" font-family="Liberation Serif" font-style="italic" font-size="10.8" fill="#3a3a3a" stroke="#3a3a3a" stroke-width="0.25">H</text>
<text x="959.90" y="611.91" font-family="Liberation Serif" font-style="italic" font-size="7.34" fill="#3a3a3a" stroke="#3a3a3a" stroke-width="0.2">AC</text>
<text x="959.36" y="618.39" font-family="Liberation Serif" font-style="italic" font-size="7.34" fill="#3a3a3a" stroke="#3a3a3a" stroke-width="0.2">t</text>
<text x="60.4" y="675" font-family="Liberation Serif" font-size="19.2" fill="#000">(a)</text>
<text x="90.0" y="675" font-family="Liberation Serif" font-size="19.2" fill="#000" word-spacing="1.5">General Acoustic Encoder</text>
<text x="373.6" y="675" font-family="Liberation Serif" font-size="19.2" fill="#000">(b)</text>
<text x="404.3" y="675" font-family="Liberation Serif" font-size="19.2" fill="#000" word-spacing="1.4">Layer-adapted Module</text>
<text x="681.6" y="675" font-family="Liberation Serif" font-size="19.2" fill="#000">(c)</text>
<text x="711.2" y="675" font-family="Liberation Serif" font-size="19.2" fill="#000" word-spacing="1.1">Cross Information Fusion Module</text>
<text x="329.0" y="732.2" font-family="Liberation Serif" font-size="21.3" fill="#000">Figure 2:</text>
<text x="415.4" y="732.2" font-family="Liberation Serif" font-size="21.3" font-style="italic" fill="#000" word-spacing="1.0">Key parts of the model architecture.</text>
</svg></body></html>
